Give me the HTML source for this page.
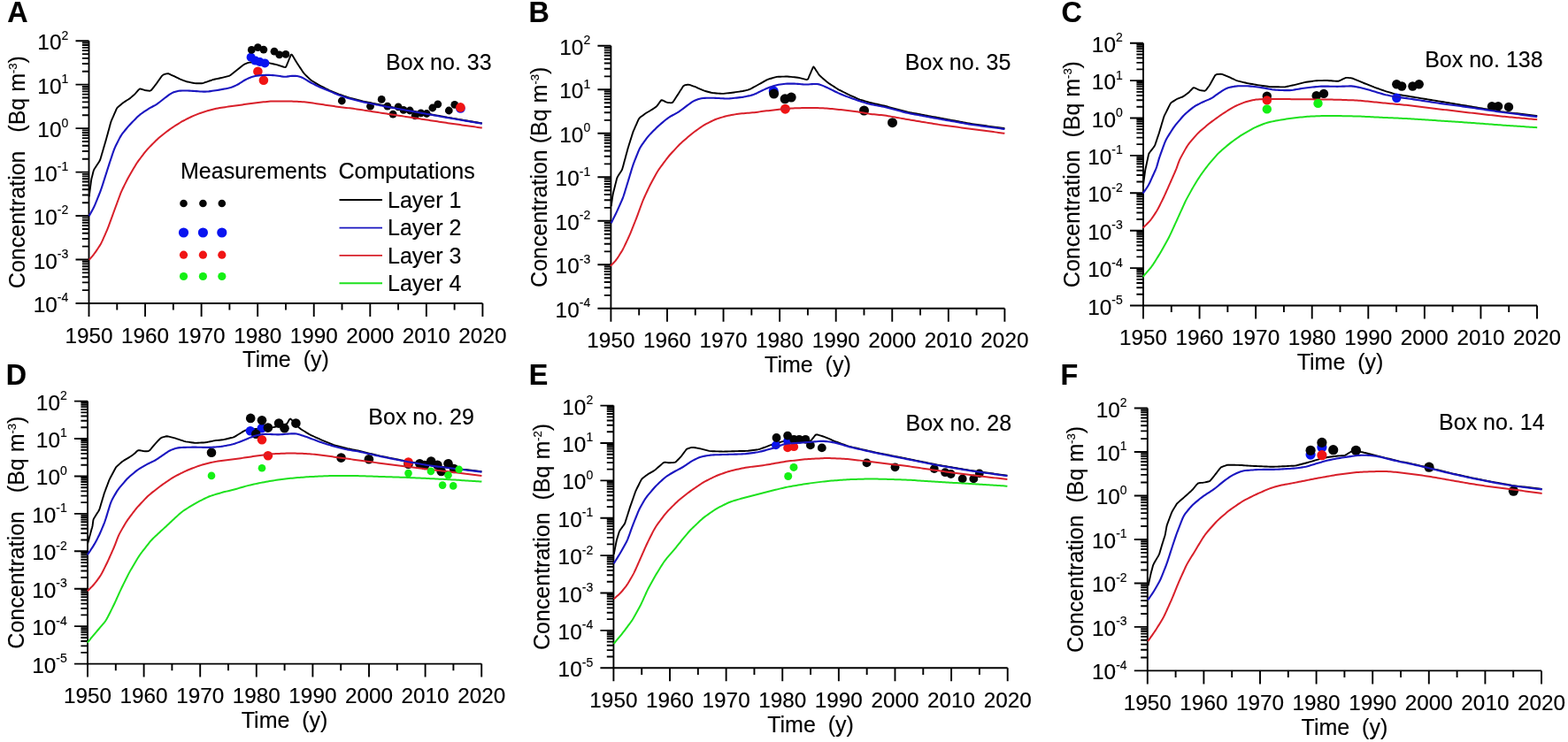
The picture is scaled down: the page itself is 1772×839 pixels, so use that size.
<!DOCTYPE html>
<html><head><meta charset="utf-8"><title>Figure</title>
<style>html,body{margin:0;padding:0;background:#fff;overflow:hidden;}svg{display:block;}text{stroke:#000;stroke-width:0.15px;}</style>
</head><body>
<svg width="1772" height="839" viewBox="0 0 1772 839" font-family='"Liberation Sans", Arial, sans-serif' fill="#000">
<rect width="1772" height="839" fill="#fff"/>
<path d="M100.5,46.2 V358 M85.5,343 H545.4 M92.9,328.11 H100.5 M92.9,319.4 H100.5 M92.9,313.22 H100.5 M92.9,308.42 H100.5 M92.9,304.51 H100.5 M92.9,301.2 H100.5 M92.9,298.33 H100.5 M92.9,295.8 H100.5 M85.5,293.53 H100.5 M92.9,278.64 H100.5 M92.9,269.93 H100.5 M92.9,263.75 H100.5 M92.9,258.96 H100.5 M92.9,255.04 H100.5 M92.9,251.73 H100.5 M92.9,248.86 H100.5 M92.9,246.33 H100.5 M85.5,244.07 H100.5 M92.9,229.18 H100.5 M92.9,220.47 H100.5 M92.9,214.28 H100.5 M92.9,209.49 H100.5 M92.9,205.57 H100.5 M92.9,202.26 H100.5 M92.9,199.39 H100.5 M92.9,196.86 H100.5 M85.5,194.6 H100.5 M92.9,179.71 H100.5 M92.9,171 H100.5 M92.9,164.82 H100.5 M92.9,160.02 H100.5 M92.9,156.11 H100.5 M92.9,152.8 H100.5 M92.9,149.93 H100.5 M92.9,147.4 H100.5 M85.5,145.13 H100.5 M92.9,130.24 H100.5 M92.9,121.53 H100.5 M92.9,115.35 H100.5 M92.9,110.56 H100.5 M92.9,106.64 H100.5 M92.9,103.33 H100.5 M92.9,100.46 H100.5 M92.9,97.93 H100.5 M85.5,95.67 H100.5 M92.9,80.78 H100.5 M92.9,72.07 H100.5 M92.9,65.88 H100.5 M92.9,61.09 H100.5 M92.9,57.17 H100.5 M92.9,53.86 H100.5 M92.9,50.99 H100.5 M92.9,48.46 H100.5 M85.5,46.2 H100.5 M132.28,343 V350.6 M164.06,343 V358 M195.84,343 V350.6 M227.61,343 V358 M259.39,343 V350.6 M291.17,343 V358 M322.95,343 V350.6 M354.73,343 V358 M386.51,343 V350.6 M418.29,343 V358 M450.06,343 V350.6 M481.84,343 V358 M513.62,343 V350.6 M545.4,343 V358" stroke="#000" stroke-width="1.9" fill="none"/>
<text x="77.3" y="353" text-anchor="end" font-size="24.4">10<tspan font-size="14" dy="-11.6">-4</tspan></text>
<text x="77.3" y="303.53" text-anchor="end" font-size="24.4">10<tspan font-size="14" dy="-11.6">-3</tspan></text>
<text x="77.3" y="254.07" text-anchor="end" font-size="24.4">10<tspan font-size="14" dy="-11.6">-2</tspan></text>
<text x="77.3" y="204.6" text-anchor="end" font-size="24.4">10<tspan font-size="14" dy="-11.6">-1</tspan></text>
<text x="77.3" y="155.13" text-anchor="end" font-size="24.4">10<tspan font-size="14" dy="-11.6">0</tspan></text>
<text x="77.3" y="105.67" text-anchor="end" font-size="24.4">10<tspan font-size="14" dy="-11.6">1</tspan></text>
<text x="77.3" y="56.2" text-anchor="end" font-size="24.4">10<tspan font-size="14" dy="-11.6">2</tspan></text>
<text x="100.5" y="387.6" text-anchor="middle" font-size="24.3">1950</text>
<text x="164.06" y="387.6" text-anchor="middle" font-size="24.3">1960</text>
<text x="227.61" y="387.6" text-anchor="middle" font-size="24.3">1970</text>
<text x="291.17" y="387.6" text-anchor="middle" font-size="24.3">1980</text>
<text x="354.73" y="387.6" text-anchor="middle" font-size="24.3">1990</text>
<text x="418.29" y="387.6" text-anchor="middle" font-size="24.3">2000</text>
<text x="481.84" y="387.6" text-anchor="middle" font-size="24.3">2010</text>
<text x="545.4" y="387.6" text-anchor="middle" font-size="24.3">2020</text>
<text x="322.95" y="415.3" text-anchor="middle" font-size="25" xml:space="preserve">Time  (y)</text>
<text transform="translate(28,194.6) rotate(-90)" text-anchor="middle" font-size="25">Concentration   (Bq m<tspan font-size="13" dy="-9">-3</tspan><tspan dy="9">)</tspan></text>
<text x="436.1" y="79.1" font-size="25">Box no. 33</text>
<text x="8.3" y="25" font-size="32.3" font-weight="bold">A</text>
<path d="M100.7,222.4 L100.96,220.42 L101.21,218.43 L101.47,216.45 L101.72,214.46 L101.98,212.48 L102.23,210.49 L102.49,208.51 L102.75,206.52 L103,204.54 L103.33,202.57 L103.8,200.63 L104.3,198.69 L104.79,196.75 L105.28,194.81 L105.79,192.88 L106.62,191.09 L107.72,189.42 L108.83,187.75 L109.94,186.08 L111.01,184.4 L112.08,182.71 L113.06,180.98 L113.69,179.08 L114.25,177.16 L114.81,175.24 L115.38,173.32 L115.94,171.4 L116.5,169.48 L117.06,167.56 L117.62,165.64 L118.18,163.72 L118.75,161.8 L119.31,159.88 L119.86,157.96 L120.39,156.03 L120.92,154.1 L121.45,152.17 L121.97,150.24 L122.5,148.31 L123.02,146.38 L123.55,144.45 L124.08,142.52 L124.6,140.59 L125.13,138.66 L125.76,136.76 L126.54,134.92 L127.34,133.09 L128.15,131.26 L128.95,129.42 L129.75,127.59 L130.55,125.76 L131.36,123.92 L132.25,122.16 L133.65,120.77 L135.17,119.47 L136.7,118.18 L138.22,116.88 L139.84,115.71 L141.53,114.64 L143.22,113.57 L144.91,112.5 L146.57,111.39 L148.12,110.13 L149.65,108.84 L151.18,107.55 L152.63,106.18 L153.95,104.68 L155.26,103.16 L156.56,101.65 L157.95,100.41 L159.76,100.72 L161.66,101.35 L163.57,101.94 L165.54,102.26 L167.52,102.53 L169.47,102.73 L171.03,101.94 L172.26,100.38 L173.49,98.8 L174.72,97.22 L175.95,95.64 L177.16,94.05 L178.32,92.42 L179.48,90.79 L180.63,89.15 L181.78,87.52 L182.94,85.89 L184.38,84.64 L186.24,83.95 L188.14,83.33 L190.01,83.24 L191.85,83.96 L193.69,84.76 L195.52,85.56 L197.33,86.42 L199.12,87.31 L200.91,88.2 L202.7,89.1 L204.53,89.9 L206.4,90.6 L208.28,91.29 L210.16,91.98 L212.07,92.54 L214.03,92.94 L216,93.33 L217.96,93.72 L219.92,94.1 L221.9,94.3 L223.9,94.3 L225.91,94.3 L227.9,94.26 L229.83,93.85 L231.73,93.22 L233.63,92.59 L235.52,91.93 L237.4,91.25 L239.29,90.58 L241.19,89.97 L243.14,89.53 L245.1,89.12 L247.06,88.71 L249.01,88.27 L250.96,87.81 L252.9,87.35 L254.85,86.89 L256.8,86.44 L258.73,85.95 L260.46,85.03 L262.03,83.8 L263.6,82.56 L265.17,81.32 L266.74,80.08 L268.31,78.84 L269.88,77.59 L271.44,76.34 L273,75.08 L274.55,73.83 L276.2,72.72 L278.01,71.88 L279.85,71.09 L281.77,70.66 L283.76,70.57 L285.76,70.48 L287.76,70.4 L289.76,70.33 L291.76,70.4 L293.76,70.52 L295.75,70.64 L297.75,70.76 L299.75,70.87 L301.75,70.99 L303.73,71.17 L305.69,71.57 L307.64,72.01 L309.6,72.45 L311.55,72.9 L313.48,73.4 L315.38,74.02 L317.28,74.65 L319.18,75.27 L321.08,75.9 L322.79,76.11 L323.68,74.56 L324.44,72.71 L325.19,70.85 L325.94,69 L326.69,67.15 L327.44,65.29 L328.19,63.44 L328.95,61.64 L329.84,61.64 L330.87,63.31 L331.9,65.03 L332.94,66.74 L333.97,68.46 L335,70.17 L336.06,71.87 L337.16,73.54 L338.27,75.2 L339.38,76.87 L340.49,78.53 L341.6,80.2 L342.71,81.86 L343.95,83.42 L345.36,84.84 L346.78,86.24 L348.21,87.65 L349.63,89.05 L351.09,90.41 L352.76,91.51 L354.46,92.55 L356.17,93.6 L357.88,94.64 L359.59,95.68 L361.33,96.66 L363.12,97.56 L364.91,98.45 L366.7,99.35 L368.49,100.24 L370.28,101.14 L372.08,102.01 L373.92,102.78 L375.77,103.54 L377.63,104.3 L379.48,105.06 L381.33,105.81 L383.19,106.56 L385.07,107.24 L386.96,107.88 L388.85,108.53 L390.75,109.18 L392.64,109.83 L394.54,110.46 L396.46,110.99 L398.41,111.48 L400.35,111.97 L402.29,112.46 L404.23,112.95 L406.17,113.44 L408.11,113.92 L410.05,114.4 L412.01,114.81 L413.97,115.22 L415.93,115.62 L417.89,116.03 L419.85,116.43 L421.8,116.84 L423.76,117.24 L425.72,117.65 L427.68,118.05 L429.64,118.46 L431.6,118.86 L433.56,119.27 L435.52,119.67 L437.48,120.08 L439.44,120.48 L441.4,120.86 L443.37,121.23 L445.34,121.6 L447.3,121.97 L449.27,122.34 L451.24,122.7 L453.2,123.07 L455.17,123.44 L457.14,123.81 L459.1,124.18 L461.07,124.55 L463.04,124.92 L465,125.28 L466.97,125.65 L468.94,126.02 L470.9,126.39 L472.87,126.75 L474.84,127.11 L476.81,127.47 L478.78,127.83 L480.75,128.18 L482.72,128.54 L484.68,128.9 L486.65,129.26 L488.62,129.62 L490.59,129.98 L492.56,130.33 L494.53,130.69 L496.49,131.05 L498.46,131.41 L500.43,131.77 L502.4,132.13 L504.37,132.48 L506.34,132.83 L508.31,133.17 L510.28,133.5 L512.26,133.84 L514.23,134.18 L516.2,134.51 L518.17,134.85 L520.15,135.19 L522.12,135.52 L524.09,135.86 L526.06,136.2 L528.04,136.54 L530.01,136.87 L531.98,137.21 L533.95,137.55 L535.92,137.88 L537.9,138.22 L539.87,138.56 L541.84,138.89 L543.81,139.23 L544.8,139.4" stroke="#000000" stroke-width="1.9" fill="none" stroke-linejoin="round"/>
<circle cx="283.6" cy="64.7" r="5" fill="#0a14f0"/>
<circle cx="288.6" cy="68.6" r="5" fill="#0a14f0"/>
<circle cx="293.6" cy="70" r="5" fill="#0a14f0"/>
<circle cx="299.3" cy="71.4" r="5" fill="#0a14f0"/>
<circle cx="520.4" cy="122.4" r="5.3" fill="#0a14f0"/>
<circle cx="284.3" cy="56.4" r="4.4" fill="#050505"/>
<circle cx="291.4" cy="53.6" r="4.4" fill="#050505"/>
<circle cx="297.9" cy="56.1" r="4.4" fill="#050505"/>
<circle cx="310" cy="58.2" r="4.4" fill="#050505"/>
<circle cx="315.7" cy="61.8" r="4.4" fill="#050505"/>
<circle cx="322.9" cy="61.4" r="4.4" fill="#050505"/>
<circle cx="386.3" cy="114" r="4.4" fill="#050505"/>
<circle cx="418.5" cy="120.2" r="4.4" fill="#050505"/>
<circle cx="431.2" cy="112.4" r="4.4" fill="#050505"/>
<circle cx="437.9" cy="120.2" r="4.4" fill="#050505"/>
<circle cx="444.1" cy="129.1" r="4.4" fill="#050505"/>
<circle cx="450.1" cy="120.8" r="4.4" fill="#050505"/>
<circle cx="456" cy="124.4" r="4.4" fill="#050505"/>
<circle cx="463.2" cy="125" r="4.4" fill="#050505"/>
<circle cx="469.1" cy="130.9" r="4.4" fill="#050505"/>
<circle cx="475.7" cy="127.9" r="4.4" fill="#050505"/>
<circle cx="482.2" cy="128.5" r="4.4" fill="#050505"/>
<circle cx="488.8" cy="122" r="4.4" fill="#050505"/>
<circle cx="494.8" cy="117.8" r="4.4" fill="#050505"/>
<circle cx="507.3" cy="125" r="4.4" fill="#050505"/>
<circle cx="513.8" cy="118.4" r="4.4" fill="#050505"/>
<circle cx="291.4" cy="80.7" r="5.3" fill="#f01414"/>
<circle cx="297.9" cy="90.8" r="5.3" fill="#f01414"/>
<circle cx="520.4" cy="121.4" r="5.3" fill="#f01414"/>
<path d="M100.7,244.3 L101.66,242.54 L102.62,240.79 L103.59,239.03 L104.54,237.27 L105.46,235.5 L106.34,233.7 L107.16,231.88 L107.94,230.04 L108.7,228.18 L109.45,226.33 L110.2,224.47 L110.95,222.61 L111.7,220.76 L112.44,218.9 L113.17,217.03 L113.87,215.16 L114.54,213.27 L115.17,211.38 L115.79,209.47 L116.4,207.56 L117,205.65 L117.61,203.75 L118.22,201.84 L118.82,199.93 L119.43,198.02 L120.04,196.11 L120.64,194.2 L121.25,192.3 L121.86,190.39 L122.46,188.48 L123.08,186.57 L123.69,184.67 L124.32,182.77 L124.95,180.87 L125.58,178.97 L126.21,177.07 L126.84,175.17 L127.48,173.27 L128.13,171.38 L128.81,169.5 L129.55,167.64 L130.36,165.82 L131.22,164.01 L132.11,162.22 L133.01,160.43 L133.91,158.64 L134.82,156.86 L135.76,155.1 L136.77,153.37 L137.86,151.72 L139.05,150.12 L140.3,148.56 L141.57,147.01 L142.86,145.48 L144.15,143.94 L145.45,142.43 L146.79,140.94 L148.15,139.48 L149.55,138.04 L150.95,136.61 L152.36,135.19 L153.77,133.77 L155.2,132.37 L156.65,131 L158.16,129.7 L159.74,128.49 L161.37,127.33 L163.03,126.22 L164.7,125.11 L166.38,124.02 L168.07,122.96 L169.79,121.94 L171.54,120.97 L173.31,120.03 L175.06,119.08 L176.77,118.05 L178.42,116.94 L180.02,115.75 L181.6,114.52 L183.16,113.27 L184.73,112.03 L186.31,110.79 L187.89,109.57 L189.49,108.36 L191.11,107.19 L192.76,106.09 L194.48,105.13 L196.28,104.33 L198.16,103.69 L200.07,103.18 L202.02,102.82 L203.99,102.62 L205.98,102.53 L207.98,102.51 L209.98,102.52 L211.98,102.55 L213.98,102.62 L215.98,102.72 L217.98,102.86 L219.97,103 L221.97,103.14 L223.97,103.29 L225.97,103.43 L227.96,103.56 L229.96,103.65 L231.95,103.65 L233.94,103.55 L235.92,103.35 L237.9,103.09 L239.89,102.81 L241.87,102.53 L243.85,102.23 L245.83,101.92 L247.8,101.59 L249.77,101.24 L251.74,100.89 L253.71,100.53 L255.68,100.16 L257.64,99.77 L259.58,99.31 L261.48,98.75 L263.35,98.06 L265.17,97.26 L266.98,96.4 L268.75,95.48 L270.48,94.48 L272.17,93.42 L273.83,92.32 L275.51,91.24 L277.23,90.24 L279.01,89.35 L280.83,88.54 L282.69,87.79 L284.55,87.09 L286.44,86.47 L288.36,85.98 L290.31,85.64 L292.29,85.42 L294.28,85.26 L296.28,85.12 L298.28,84.99 L300.27,84.9 L302.27,84.86 L304.27,84.89 L306.27,84.98 L308.26,85.11 L310.26,85.27 L312.25,85.47 L314.23,85.74 L316.2,86.06 L318.17,86.38 L320.13,86.63 L322.1,86.73 L324.06,86.63 L326.02,86.37 L327.98,86.07 L329.95,85.84 L331.93,85.77 L333.9,85.85 L335.88,86.07 L337.82,86.42 L339.7,86.96 L341.5,87.71 L343.24,88.65 L344.94,89.68 L346.64,90.73 L348.35,91.77 L350.09,92.77 L351.85,93.72 L353.62,94.64 L355.4,95.55 L357.19,96.45 L358.99,97.34 L360.8,98.19 L362.63,99 L364.47,99.79 L366.32,100.56 L368.17,101.32 L370.02,102.08 L371.87,102.85 L373.72,103.62 L375.57,104.39 L377.41,105.16 L379.26,105.93 L381.12,106.68 L382.98,107.41 L384.86,108.1 L386.75,108.77 L388.64,109.41 L390.54,110.04 L392.45,110.66 L394.36,111.25 L396.28,111.8 L398.21,112.32 L400.15,112.82 L402.09,113.31 L404.04,113.8 L405.98,114.28 L407.92,114.76 L409.87,115.21 L411.83,115.64 L413.79,116.05 L415.75,116.45 L417.71,116.84 L419.68,117.24 L421.64,117.63 L423.6,118.02 L425.57,118.41 L427.53,118.81 L429.49,119.2 L431.46,119.59 L433.42,119.98 L435.38,120.38 L437.35,120.76 L439.31,121.14 L441.28,121.51 L443.25,121.87 L445.22,122.23 L447.19,122.58 L449.17,122.93 L451.14,123.28 L453.11,123.63 L455.08,123.98 L457.05,124.33 L459.02,124.68 L460.99,125.03 L462.97,125.38 L464.94,125.73 L466.91,126.08 L468.88,126.44 L470.85,126.79 L472.82,127.14 L474.79,127.5 L476.76,127.86 L478.73,128.22 L480.7,128.58 L482.67,128.93 L484.64,129.29 L486.61,129.65 L488.58,130.01 L490.55,130.37 L492.52,130.73 L494.49,131.09 L496.46,131.44 L498.43,131.8 L500.4,132.16 L502.37,132.52 L504.34,132.87 L506.31,133.22 L508.29,133.56 L510.26,133.9 L512.23,134.24 L514.21,134.57 L516.18,134.91 L518.15,135.25 L520.13,135.58 L522.1,135.92 L524.08,136.26 L526.05,136.6 L528.02,136.93 L530,137.27 L531.97,137.61 L533.94,137.95 L535.92,138.28 L537.89,138.62 L539.87,138.96 L541.84,139.29 L543.81,139.63 L544.8,139.8" stroke="#1a16c0" stroke-width="2.1" fill="none" stroke-linejoin="round"/>
<path d="M100.7,293.9 L102.01,292.38 L103.32,290.87 L104.6,289.34 L105.85,287.77 L107.05,286.18 L108.21,284.55 L109.34,282.9 L110.46,281.23 L111.56,279.57 L112.64,277.88 L113.66,276.17 L114.6,274.41 L115.47,272.61 L116.3,270.79 L117.12,268.96 L117.93,267.13 L118.74,265.3 L119.55,263.47 L120.34,261.63 L121.13,259.79 L121.88,257.94 L122.6,256.07 L123.3,254.19 L123.98,252.31 L124.67,250.43 L125.35,248.55 L126.04,246.67 L126.72,244.79 L127.41,242.91 L128.09,241.02 L128.78,239.14 L129.46,237.26 L130.15,235.38 L130.84,233.5 L131.53,231.62 L132.22,229.74 L132.91,227.86 L133.6,225.98 L134.29,224.1 L134.98,222.22 L135.68,220.35 L136.4,218.48 L137.17,216.64 L137.99,214.81 L138.85,213.01 L139.73,211.21 L140.62,209.42 L141.51,207.62 L142.4,205.83 L143.31,204.04 L144.23,202.27 L145.18,200.51 L146.17,198.77 L147.17,197.03 L148.18,195.31 L149.19,193.58 L150.2,191.85 L151.2,190.11 L152.19,188.38 L153.21,186.65 L154.27,184.96 L155.39,183.31 L156.55,181.68 L157.75,180.08 L158.96,178.48 L160.16,176.88 L161.37,175.29 L162.59,173.7 L163.81,172.12 L165.07,170.56 L166.38,169.05 L167.74,167.59 L169.13,166.15 L170.54,164.73 L171.95,163.3 L173.36,161.88 L174.77,160.47 L176.19,159.05 L177.63,157.67 L179.1,156.32 L180.62,155.02 L182.17,153.75 L183.74,152.51 L185.32,151.27 L186.89,150.04 L188.47,148.81 L190.06,147.59 L191.66,146.4 L193.3,145.24 L194.96,144.13 L196.64,143.03 L198.32,141.95 L200.01,140.88 L201.7,139.8 L203.4,138.75 L205.12,137.72 L206.86,136.74 L208.63,135.81 L210.41,134.9 L212.2,134 L213.99,133.11 L215.79,132.23 L217.6,131.38 L219.43,130.57 L221.28,129.82 L223.15,129.11 L225.03,128.43 L226.92,127.75 L228.8,127.08 L230.7,126.43 L232.6,125.83 L234.52,125.27 L236.46,124.75 L238.39,124.24 L240.33,123.75 L242.28,123.27 L244.22,122.82 L246.18,122.41 L248.15,122.05 L250.13,121.74 L252.1,121.44 L254.09,121.15 L256.07,120.87 L258.05,120.59 L260.04,120.32 L262.02,120.05 L264,119.79 L265.99,119.52 L267.97,119.24 L269.95,118.96 L271.94,118.68 L273.92,118.39 L275.9,118.1 L277.88,117.81 L279.86,117.51 L281.84,117.22 L283.82,116.94 L285.8,116.66 L287.79,116.4 L289.78,116.16 L291.77,115.94 L293.76,115.74 L295.75,115.54 L297.74,115.34 L299.74,115.14 L301.73,114.95 L303.72,114.76 L305.72,114.61 L307.71,114.5 L309.71,114.43 L311.71,114.41 L313.71,114.4 L315.72,114.4 L317.72,114.4 L319.72,114.4 L321.72,114.4 L323.72,114.42 L325.73,114.44 L327.73,114.5 L329.73,114.57 L331.73,114.66 L333.73,114.75 L335.73,114.85 L337.73,114.94 L339.73,115.04 L341.73,115.15 L343.72,115.28 L345.71,115.47 L347.7,115.7 L349.68,115.97 L351.66,116.27 L353.64,116.57 L355.62,116.87 L357.6,117.17 L359.58,117.47 L361.56,117.77 L363.54,118.07 L365.52,118.36 L367.5,118.65 L369.48,118.94 L371.46,119.24 L373.44,119.53 L375.42,119.82 L377.41,120.11 L379.39,120.39 L381.37,120.67 L383.35,120.94 L385.34,121.2 L387.33,121.44 L389.32,121.67 L391.3,121.9 L393.29,122.13 L395.28,122.36 L397.27,122.6 L399.26,122.85 L401.24,123.12 L403.22,123.41 L405.2,123.7 L407.18,124.01 L409.16,124.31 L411.14,124.62 L413.12,124.92 L415.1,125.23 L417.07,125.53 L419.05,125.84 L421.03,126.14 L423.01,126.45 L424.99,126.76 L426.97,127.06 L428.95,127.37 L430.93,127.67 L432.9,127.98 L434.88,128.28 L436.86,128.59 L438.84,128.89 L440.82,129.19 L442.8,129.5 L444.78,129.8 L446.76,130.1 L448.74,130.41 L450.72,130.71 L452.69,131.01 L454.67,131.32 L456.65,131.62 L458.63,131.93 L460.61,132.23 L462.59,132.53 L464.57,132.84 L466.55,133.14 L468.53,133.44 L470.51,133.75 L472.49,134.05 L474.47,134.35 L476.44,134.65 L478.42,134.95 L480.4,135.26 L482.38,135.56 L484.36,135.86 L486.34,136.16 L488.32,136.46 L490.3,136.76 L492.28,137.06 L494.26,137.36 L496.24,137.67 L498.22,137.97 L500.2,138.27 L502.18,138.57 L504.16,138.86 L506.14,139.15 L508.12,139.44 L510.1,139.72 L512.09,140 L514.07,140.28 L516.05,140.55 L518.03,140.83 L520.02,141.11 L522,141.39 L523.98,141.67 L525.96,141.95 L527.95,142.23 L529.93,142.51 L531.91,142.79 L533.9,143.07 L535.88,143.34 L537.86,143.62 L539.84,143.9 L541.83,144.18 L543.81,144.46 L544.8,144.6" stroke="#d8202a" stroke-width="2.0" fill="none" stroke-linejoin="round"/>
<path d="M690.4,51.8 V363.8 M675.4,348.8 H1135.4 M682.8,333.9 H690.4 M682.8,325.18 H690.4 M682.8,319 H690.4 M682.8,314.2 H690.4 M682.8,310.28 H690.4 M682.8,306.97 H690.4 M682.8,304.1 H690.4 M682.8,301.56 H690.4 M675.4,299.3 H690.4 M682.8,284.4 H690.4 M682.8,275.68 H690.4 M682.8,269.5 H690.4 M682.8,264.7 H690.4 M682.8,260.78 H690.4 M682.8,257.47 H690.4 M682.8,254.6 H690.4 M682.8,252.06 H690.4 M675.4,249.8 H690.4 M682.8,234.9 H690.4 M682.8,226.18 H690.4 M682.8,220 H690.4 M682.8,215.2 H690.4 M682.8,211.28 H690.4 M682.8,207.97 H690.4 M682.8,205.1 H690.4 M682.8,202.56 H690.4 M675.4,200.3 H690.4 M682.8,185.4 H690.4 M682.8,176.68 H690.4 M682.8,170.5 H690.4 M682.8,165.7 H690.4 M682.8,161.78 H690.4 M682.8,158.47 H690.4 M682.8,155.6 H690.4 M682.8,153.06 H690.4 M675.4,150.8 H690.4 M682.8,135.9 H690.4 M682.8,127.18 H690.4 M682.8,121 H690.4 M682.8,116.2 H690.4 M682.8,112.28 H690.4 M682.8,108.97 H690.4 M682.8,106.1 H690.4 M682.8,103.56 H690.4 M675.4,101.3 H690.4 M682.8,86.4 H690.4 M682.8,77.68 H690.4 M682.8,71.5 H690.4 M682.8,66.7 H690.4 M682.8,62.78 H690.4 M682.8,59.47 H690.4 M682.8,56.6 H690.4 M682.8,54.06 H690.4 M675.4,51.8 H690.4 M722.19,348.8 V356.4 M753.97,348.8 V363.8 M785.76,348.8 V356.4 M817.54,348.8 V363.8 M849.33,348.8 V356.4 M881.11,348.8 V363.8 M912.9,348.8 V356.4 M944.69,348.8 V363.8 M976.47,348.8 V356.4 M1008.26,348.8 V363.8 M1040.04,348.8 V356.4 M1071.83,348.8 V363.8 M1103.61,348.8 V356.4 M1135.4,348.8 V363.8" stroke="#000" stroke-width="1.9" fill="none"/>
<text x="667.2" y="358.8" text-anchor="end" font-size="24.4">10<tspan font-size="14" dy="-11.6">-4</tspan></text>
<text x="667.2" y="309.3" text-anchor="end" font-size="24.4">10<tspan font-size="14" dy="-11.6">-3</tspan></text>
<text x="667.2" y="259.8" text-anchor="end" font-size="24.4">10<tspan font-size="14" dy="-11.6">-2</tspan></text>
<text x="667.2" y="210.3" text-anchor="end" font-size="24.4">10<tspan font-size="14" dy="-11.6">-1</tspan></text>
<text x="667.2" y="160.8" text-anchor="end" font-size="24.4">10<tspan font-size="14" dy="-11.6">0</tspan></text>
<text x="667.2" y="111.3" text-anchor="end" font-size="24.4">10<tspan font-size="14" dy="-11.6">1</tspan></text>
<text x="667.2" y="61.8" text-anchor="end" font-size="24.4">10<tspan font-size="14" dy="-11.6">2</tspan></text>
<text x="690.4" y="393.4" text-anchor="middle" font-size="24.3">1950</text>
<text x="753.97" y="393.4" text-anchor="middle" font-size="24.3">1960</text>
<text x="817.54" y="393.4" text-anchor="middle" font-size="24.3">1970</text>
<text x="881.11" y="393.4" text-anchor="middle" font-size="24.3">1980</text>
<text x="944.69" y="393.4" text-anchor="middle" font-size="24.3">1990</text>
<text x="1008.26" y="393.4" text-anchor="middle" font-size="24.3">2000</text>
<text x="1071.83" y="393.4" text-anchor="middle" font-size="24.3">2010</text>
<text x="1135.4" y="393.4" text-anchor="middle" font-size="24.3">2020</text>
<text x="912.9" y="421.1" text-anchor="middle" font-size="25" xml:space="preserve">Time  (y)</text>
<text transform="translate(617.9,200.3) rotate(-90)" text-anchor="middle" font-size="25">Concentration (Bq m<tspan font-size="13" dy="-9">-3</tspan><tspan dy="9">)</tspan></text>
<text x="1022.8" y="79.3" font-size="25">Box no. 35</text>
<text x="597.5" y="25" font-size="32.3" font-weight="bold">B</text>
<path d="M690.7,233.1 L690.98,231.12 L691.27,229.14 L691.55,227.16 L691.83,225.18 L692.11,223.2 L692.4,221.22 L692.75,219.25 L693.23,217.31 L693.71,215.37 L694.2,213.43 L694.69,211.49 L695.18,209.55 L695.66,207.61 L696.15,205.67 L696.64,203.73 L697.13,201.79 L697.89,199.96 L698.95,198.27 L700.03,196.59 L701.11,194.9 L702.19,193.22 L703.13,191.47 L703.7,189.56 L704.23,187.63 L704.75,185.7 L705.27,183.77 L705.79,181.84 L706.31,179.91 L706.84,177.97 L707.36,176.04 L707.88,174.11 L708.4,172.18 L708.92,170.25 L709.44,168.32 L710,166.39 L710.59,164.49 L711.19,162.58 L711.79,160.67 L712.39,158.76 L713,156.85 L713.6,154.94 L714.2,153.04 L714.8,151.13 L715.42,149.23 L716.17,147.38 L716.98,145.54 L717.79,143.71 L718.59,141.88 L719.4,140.05 L720.21,138.22 L721.01,136.39 L721.84,134.57 L723.06,133.07 L724.65,131.86 L726.25,130.66 L727.85,129.46 L729.46,128.28 L731.15,127.21 L732.88,126.21 L734.61,125.2 L736.33,124.18 L738.01,123.09 L739.67,121.98 L741.33,120.87 L742.74,119.5 L743.9,117.87 L745.04,116.23 L746.19,114.59 L747.39,113.2 L749.01,113.5 L750.78,114.42 L752.55,115.34 L754.42,115.95 L756.4,116.17 L758.39,116.35 L760.07,115.89 L761.22,114.33 L762.31,112.66 L763.4,110.98 L764.5,109.31 L765.59,107.63 L766.67,105.95 L767.75,104.26 L768.82,102.57 L769.9,100.89 L770.98,99.2 L772.06,97.53 L773.52,96.41 L775.46,96.02 L777.42,95.68 L779.35,95.87 L781.22,96.56 L783.09,97.27 L784.96,97.97 L786.82,98.72 L788.65,99.53 L790.48,100.34 L792.31,101.14 L794.14,101.95 L796,102.68 L797.92,103.21 L799.86,103.72 L801.79,104.23 L803.73,104.74 L805.68,105.12 L807.68,105.3 L809.67,105.46 L811.66,105.61 L813.66,105.77 L815.65,105.92 L817.64,105.88 L819.63,105.65 L821.62,105.43 L823.61,105.2 L825.6,104.97 L827.58,104.74 L829.56,104.47 L831.54,104.17 L833.52,103.87 L835.5,103.58 L837.48,103.28 L839.45,102.97 L841.41,102.55 L843.35,102.06 L845.29,101.58 L847.2,101.02 L848.98,100.12 L850.73,99.15 L852.48,98.19 L854.24,97.22 L855.99,96.25 L857.74,95.29 L859.48,94.3 L861.22,93.31 L862.96,92.32 L864.7,91.34 L866.44,90.35 L868.26,89.57 L870.19,89.02 L872.11,88.48 L874.04,87.94 L875.96,87.4 L877.9,86.91 L879.88,86.76 L881.88,86.71 L883.88,86.66 L885.88,86.61 L887.88,86.56 L889.88,86.53 L891.87,86.68 L893.87,86.88 L895.86,87.08 L897.85,87.28 L899.84,87.48 L901.82,87.72 L903.77,88.15 L905.71,88.64 L907.65,89.13 L909.59,89.62 L911.52,90.08 L912.97,89.58 L913.8,87.83 L914.58,85.99 L915.36,84.15 L916.15,82.31 L916.93,80.46 L917.71,78.62 L918.5,76.78 L919.32,75.4 L920.36,76.55 L921.44,78.23 L922.52,79.91 L923.61,81.59 L924.69,83.27 L925.83,84.91 L927.27,86.28 L928.77,87.6 L930.28,88.92 L931.78,90.23 L933.29,91.55 L934.8,92.86 L936.4,94.05 L938.08,95.14 L939.76,96.22 L941.44,97.31 L943.12,98.4 L944.8,99.48 L946.48,100.57 L948.22,101.56 L950,102.46 L951.79,103.36 L953.58,104.26 L955.36,105.16 L957.15,106.07 L958.94,106.96 L960.76,107.79 L962.58,108.61 L964.41,109.42 L966.24,110.23 L968.07,111.05 L969.89,111.86 L971.76,112.58 L973.67,113.18 L975.58,113.76 L977.5,114.33 L979.41,114.91 L981.33,115.49 L983.25,116.04 L985.2,116.49 L987.15,116.93 L989.1,117.36 L991.06,117.8 L993.01,118.24 L994.96,118.67 L996.91,119.11 L998.86,119.55 L1000.81,120.02 L1002.74,120.53 L1004.67,121.05 L1006.61,121.57 L1008.54,122.08 L1010.47,122.6 L1012.41,123.12 L1014.34,123.63 L1016.27,124.15 L1018.2,124.67 L1020.14,125.19 L1022.07,125.7 L1024,126.22 L1025.94,126.71 L1027.9,127.09 L1029.87,127.45 L1031.84,127.82 L1033.81,128.18 L1035.77,128.54 L1037.74,128.91 L1039.71,129.27 L1041.68,129.63 L1043.64,130 L1045.61,130.36 L1047.58,130.73 L1049.54,131.09 L1051.51,131.45 L1053.48,131.82 L1055.45,132.18 L1057.41,132.54 L1059.38,132.91 L1061.35,133.27 L1063.32,133.63 L1065.28,134 L1067.25,134.36 L1069.22,134.72 L1071.19,135.09 L1073.15,135.45 L1075.12,135.81 L1077.09,136.17 L1079.06,136.54 L1081.02,136.9 L1082.99,137.26 L1084.96,137.62 L1086.93,137.99 L1088.89,138.35 L1090.86,138.71 L1092.83,139.08 L1094.8,139.44 L1096.76,139.8 L1098.74,140.1 L1100.72,140.38 L1102.7,140.65 L1104.69,140.93 L1106.67,141.2 L1108.65,141.48 L1110.63,141.75 L1112.61,142.03 L1114.59,142.31 L1116.58,142.58 L1118.56,142.86 L1120.54,143.13 L1122.52,143.41 L1124.5,143.68 L1126.48,143.96 L1128.46,144.24 L1130.45,144.51 L1132.43,144.79 L1134.41,145.06 L1135.4,145.2" stroke="#000000" stroke-width="1.9" fill="none" stroke-linejoin="round"/>
<circle cx="874.2" cy="103" r="5.5" fill="#0a14f0"/>
<circle cx="874.6" cy="106" r="5.5" fill="#050505"/>
<circle cx="887.1" cy="111.8" r="5.5" fill="#050505"/>
<circle cx="894.2" cy="110.1" r="5.5" fill="#050505"/>
<circle cx="976.5" cy="125" r="5.5" fill="#050505"/>
<circle cx="1008.5" cy="138.7" r="5.5" fill="#050505"/>
<circle cx="887.4" cy="123.2" r="5.5" fill="#f01414"/>
<path d="M690.7,252.2 L691.59,250.41 L692.49,248.62 L693.38,246.83 L694.28,245.04 L695.16,243.25 L696.04,241.45 L696.89,239.64 L697.72,237.82 L698.55,236 L699.37,234.17 L700.18,232.35 L701,230.52 L701.82,228.69 L702.62,226.86 L703.39,225.02 L704.11,223.15 L704.77,221.27 L705.39,219.37 L705.98,217.46 L706.57,215.54 L707.15,213.63 L707.74,211.72 L708.33,209.81 L708.91,207.89 L709.5,205.98 L710.08,204.06 L710.66,202.15 L711.24,200.23 L711.81,198.32 L712.39,196.4 L712.97,194.49 L713.55,192.57 L714.13,190.66 L714.73,188.75 L715.35,186.85 L716.01,184.96 L716.72,183.09 L717.44,181.23 L718.18,179.37 L718.92,177.51 L719.66,175.65 L720.4,173.79 L721.15,171.94 L721.92,170.1 L722.76,168.29 L723.7,166.54 L724.74,164.85 L725.86,163.2 L727.02,161.57 L728.19,159.95 L729.37,158.33 L730.55,156.72 L731.77,155.14 L733.04,153.6 L734.37,152.11 L735.75,150.67 L737.16,149.25 L738.57,147.83 L739.99,146.42 L741.41,145.01 L742.84,143.62 L744.31,142.26 L745.8,140.93 L747.32,139.63 L748.85,138.34 L750.39,137.06 L751.93,135.78 L753.49,134.54 L755.09,133.35 L756.74,132.25 L758.45,131.22 L760.2,130.25 L761.96,129.3 L763.71,128.33 L765.44,127.34 L767.14,126.29 L768.79,125.17 L770.41,124 L772.01,122.8 L773.6,121.59 L775.2,120.39 L776.8,119.18 L778.39,117.98 L780,116.79 L781.62,115.63 L783.29,114.58 L785.04,113.67 L786.87,112.92 L788.75,112.3 L790.67,111.76 L792.61,111.33 L794.57,111.03 L796.54,110.88 L798.54,110.82 L800.53,110.8 L802.53,110.8 L804.54,110.81 L806.54,110.82 L808.54,110.87 L810.53,110.94 L812.53,111.05 L814.53,111.18 L816.52,111.3 L818.52,111.42 L820.51,111.49 L822.51,111.49 L824.5,111.39 L826.49,111.23 L828.48,111.03 L830.47,110.82 L832.46,110.61 L834.45,110.39 L836.43,110.16 L838.42,109.9 L840.39,109.59 L842.35,109.22 L844.31,108.81 L846.26,108.37 L848.2,107.9 L850.12,107.38 L852.01,106.75 L853.85,106.01 L855.66,105.18 L857.45,104.29 L859.24,103.4 L861.04,102.52 L862.84,101.66 L864.67,100.84 L866.51,100.07 L868.37,99.32 L870.23,98.59 L872.1,97.88 L873.98,97.22 L875.88,96.65 L877.82,96.19 L879.78,95.83 L881.75,95.51 L883.73,95.22 L885.71,94.97 L887.7,94.78 L889.69,94.67 L891.69,94.62 L893.69,94.61 L895.69,94.61 L897.69,94.65 L899.68,94.72 L901.68,94.85 L903.67,95.02 L905.66,95.21 L907.65,95.38 L909.64,95.5 L911.63,95.53 L913.62,95.46 L915.61,95.31 L917.6,95.14 L919.59,95 L921.57,94.93 L923.52,95.02 L925.44,95.35 L927.31,95.91 L929.16,96.62 L931,97.39 L932.83,98.2 L934.65,99.03 L936.46,99.88 L938.26,100.76 L940.05,101.65 L941.84,102.54 L943.63,103.44 L945.43,104.31 L947.24,105.15 L949.07,105.95 L950.92,106.72 L952.78,107.46 L954.64,108.2 L956.5,108.92 L958.37,109.64 L960.24,110.34 L962.12,111.02 L964.01,111.69 L965.89,112.36 L967.78,113.02 L969.67,113.67 L971.57,114.3 L973.48,114.9 L975.39,115.49 L977.31,116.07 L979.22,116.64 L981.15,117.19 L983.08,117.69 L985.03,118.13 L986.99,118.54 L988.95,118.92 L990.92,119.29 L992.88,119.66 L994.85,120.03 L996.81,120.42 L998.77,120.82 L1000.72,121.26 L1002.66,121.73 L1004.6,122.24 L1006.53,122.75 L1008.47,123.26 L1010.4,123.78 L1012.33,124.3 L1014.27,124.82 L1016.2,125.33 L1018.13,125.85 L1020.06,126.36 L1022,126.87 L1023.94,127.36 L1025.88,127.82 L1027.84,128.24 L1029.8,128.63 L1031.77,129 L1033.73,129.37 L1035.7,129.73 L1037.67,130.09 L1039.64,130.46 L1041.6,130.82 L1043.57,131.19 L1045.54,131.55 L1047.51,131.91 L1049.47,132.28 L1051.44,132.64 L1053.41,133 L1055.38,133.37 L1057.34,133.73 L1059.31,134.09 L1061.28,134.45 L1063.25,134.8 L1065.22,135.15 L1067.19,135.5 L1069.16,135.85 L1071.13,136.19 L1073.1,136.54 L1075.07,136.89 L1077.04,137.23 L1079.01,137.58 L1080.98,137.93 L1082.95,138.28 L1084.92,138.62 L1086.89,138.97 L1088.86,139.32 L1090.83,139.66 L1092.81,140.01 L1094.78,140.34 L1096.75,140.67 L1098.73,140.97 L1100.71,141.26 L1102.69,141.53 L1104.67,141.81 L1106.66,142.08 L1108.64,142.35 L1110.62,142.62 L1112.6,142.89 L1114.58,143.16 L1116.57,143.43 L1118.55,143.7 L1120.53,143.97 L1122.51,144.24 L1124.5,144.51 L1126.48,144.78 L1128.46,145.05 L1130.44,145.32 L1132.43,145.59 L1134.41,145.86 L1135.4,146" stroke="#1a16c0" stroke-width="2.1" fill="none" stroke-linejoin="round"/>
<path d="M689.8,300.8 L691.22,299.38 L692.63,297.97 L694.02,296.53 L695.35,295.05 L696.6,293.5 L697.76,291.88 L698.86,290.21 L699.92,288.52 L700.98,286.82 L702.03,285.11 L703.05,283.39 L704.02,281.65 L704.95,279.87 L705.83,278.08 L706.69,276.27 L707.54,274.46 L708.39,272.65 L709.24,270.83 L710.09,269.02 L710.92,267.2 L711.72,265.36 L712.5,263.52 L713.26,261.67 L714,259.81 L714.75,257.95 L715.49,256.09 L716.23,254.23 L716.97,252.37 L717.7,250.5 L718.44,248.64 L719.16,246.77 L719.87,244.9 L720.57,243.03 L721.26,241.15 L721.95,239.27 L722.64,237.39 L723.33,235.51 L724.02,233.63 L724.71,231.75 L725.41,229.87 L726.11,228 L726.85,226.14 L727.63,224.29 L728.44,222.47 L729.28,220.65 L730.13,218.83 L730.98,217.02 L731.83,215.21 L732.68,213.4 L733.55,211.59 L734.43,209.79 L735.34,208.01 L736.27,206.24 L737.21,204.47 L738.16,202.71 L739.12,200.95 L740.07,199.19 L741.03,197.43 L742.01,195.69 L743.04,193.97 L744.12,192.3 L745.26,190.65 L746.43,189.03 L747.62,187.42 L748.81,185.81 L749.99,184.19 L751.18,182.58 L752.38,180.98 L753.58,179.37 L754.81,177.79 L756.07,176.25 L757.38,174.74 L758.73,173.25 L760.08,171.78 L761.45,170.32 L762.81,168.85 L764.17,167.38 L765.54,165.92 L766.92,164.47 L768.32,163.05 L769.77,161.66 L771.25,160.32 L772.75,159 L774.27,157.69 L775.79,156.39 L777.31,155.08 L778.83,153.79 L780.37,152.5 L781.92,151.24 L783.5,150.01 L785.11,148.82 L786.73,147.64 L788.35,146.48 L789.98,145.31 L791.62,144.16 L793.26,143.02 L794.94,141.93 L796.65,140.9 L798.4,139.94 L800.18,139.02 L801.96,138.12 L803.76,137.23 L805.55,136.35 L807.37,135.52 L809.21,134.75 L811.09,134.08 L813,133.48 L814.91,132.91 L816.84,132.36 L818.77,131.83 L820.7,131.32 L822.65,130.85 L824.6,130.44 L826.57,130.07 L828.54,129.72 L830.52,129.38 L832.49,129.06 L834.47,128.77 L836.45,128.52 L838.44,128.32 L840.44,128.15 L842.44,128 L844.43,127.85 L846.43,127.7 L848.43,127.54 L850.42,127.37 L852.41,127.16 L854.4,126.92 L856.38,126.65 L858.36,126.38 L860.35,126.1 L862.33,125.84 L864.32,125.59 L866.31,125.36 L868.3,125.15 L870.29,124.95 L872.28,124.75 L874.27,124.54 L876.26,124.32 L878.25,124.08 L880.24,123.84 L882.23,123.59 L884.22,123.35 L886.2,123.13 L888.2,122.94 L890.19,122.78 L892.19,122.64 L894.19,122.52 L896.19,122.41 L898.19,122.31 L900.19,122.23 L902.19,122.17 L904.19,122.13 L906.19,122.09 L908.19,122.06 L910.2,122.03 L912.2,122.01 L914.2,122.01 L916.2,122 L918.21,122 L920.21,122.01 L922.21,122.03 L924.21,122.08 L926.21,122.15 L928.21,122.24 L930.21,122.34 L932.21,122.45 L934.21,122.58 L936.21,122.72 L938.2,122.9 L940.19,123.09 L942.19,123.28 L944.18,123.49 L946.17,123.69 L948.16,123.89 L950.15,124.09 L952.15,124.29 L954.14,124.49 L956.13,124.7 L958.12,124.92 L960.11,125.16 L962.09,125.42 L964.08,125.7 L966.06,125.98 L968.04,126.27 L970.02,126.58 L971.99,126.9 L973.97,127.24 L975.94,127.6 L977.91,127.95 L979.88,128.3 L981.85,128.62 L983.83,128.9 L985.82,129.14 L987.81,129.35 L989.8,129.54 L991.8,129.73 L993.79,129.92 L995.78,130.11 L997.77,130.32 L999.76,130.57 L1001.74,130.85 L1003.72,131.18 L1005.69,131.52 L1007.66,131.87 L1009.63,132.22 L1011.6,132.57 L1013.57,132.92 L1015.55,133.27 L1017.52,133.62 L1019.49,133.97 L1021.46,134.33 L1023.43,134.67 L1025.4,135.02 L1027.38,135.35 L1029.35,135.69 L1031.33,136.01 L1033.3,136.34 L1035.28,136.67 L1037.26,136.99 L1039.23,137.32 L1041.21,137.65 L1043.18,137.97 L1045.16,138.3 L1047.13,138.63 L1049.11,138.95 L1051.09,139.28 L1053.06,139.61 L1055.04,139.93 L1057.01,140.26 L1058.99,140.57 L1060.97,140.88 L1062.95,141.18 L1064.93,141.45 L1066.91,141.72 L1068.9,141.99 L1070.88,142.26 L1072.87,142.52 L1074.85,142.79 L1076.84,143.06 L1078.82,143.32 L1080.81,143.59 L1082.79,143.85 L1084.78,144.12 L1086.76,144.39 L1088.75,144.65 L1090.73,144.92 L1092.72,145.19 L1094.7,145.45 L1096.69,145.71 L1098.67,145.98 L1100.66,146.24 L1102.64,146.5 L1104.63,146.76 L1106.61,147.02 L1108.6,147.28 L1110.58,147.54 L1112.57,147.8 L1114.55,148.06 L1116.54,148.32 L1118.52,148.59 L1120.51,148.85 L1122.49,149.11 L1124.48,149.37 L1126.47,149.63 L1128.45,149.89 L1130.44,150.15 L1132.42,150.41 L1134.41,150.67 L1135.4,150.8" stroke="#d8202a" stroke-width="2.0" fill="none" stroke-linejoin="round"/>
<path d="M1292,48.7 V360.5 M1277,345.5 H1737 M1284.4,332.74 H1292 M1284.4,325.27 H1292 M1284.4,319.97 H1292 M1284.4,315.86 H1292 M1284.4,312.51 H1292 M1284.4,309.67 H1292 M1284.4,307.21 H1292 M1284.4,305.04 H1292 M1277,303.1 H1292 M1284.4,290.34 H1292 M1284.4,282.87 H1292 M1284.4,277.57 H1292 M1284.4,273.46 H1292 M1284.4,270.11 H1292 M1284.4,267.27 H1292 M1284.4,264.81 H1292 M1284.4,262.64 H1292 M1277,260.7 H1292 M1284.4,247.94 H1292 M1284.4,240.47 H1292 M1284.4,235.17 H1292 M1284.4,231.06 H1292 M1284.4,227.71 H1292 M1284.4,224.87 H1292 M1284.4,222.41 H1292 M1284.4,220.24 H1292 M1277,218.3 H1292 M1284.4,205.54 H1292 M1284.4,198.07 H1292 M1284.4,192.77 H1292 M1284.4,188.66 H1292 M1284.4,185.31 H1292 M1284.4,182.47 H1292 M1284.4,180.01 H1292 M1284.4,177.84 H1292 M1277,175.9 H1292 M1284.4,163.14 H1292 M1284.4,155.67 H1292 M1284.4,150.37 H1292 M1284.4,146.26 H1292 M1284.4,142.91 H1292 M1284.4,140.07 H1292 M1284.4,137.61 H1292 M1284.4,135.44 H1292 M1277,133.5 H1292 M1284.4,120.74 H1292 M1284.4,113.27 H1292 M1284.4,107.97 H1292 M1284.4,103.86 H1292 M1284.4,100.51 H1292 M1284.4,97.67 H1292 M1284.4,95.21 H1292 M1284.4,93.04 H1292 M1277,91.1 H1292 M1284.4,78.34 H1292 M1284.4,70.87 H1292 M1284.4,65.57 H1292 M1284.4,61.46 H1292 M1284.4,58.11 H1292 M1284.4,55.27 H1292 M1284.4,52.81 H1292 M1284.4,50.64 H1292 M1277,48.7 H1292 M1323.79,345.5 V353.1 M1355.57,345.5 V360.5 M1387.36,345.5 V353.1 M1419.14,345.5 V360.5 M1450.93,345.5 V353.1 M1482.71,345.5 V360.5 M1514.5,345.5 V353.1 M1546.29,345.5 V360.5 M1578.07,345.5 V353.1 M1609.86,345.5 V360.5 M1641.64,345.5 V353.1 M1673.43,345.5 V360.5 M1705.21,345.5 V353.1 M1737,345.5 V360.5" stroke="#000" stroke-width="1.9" fill="none"/>
<text x="1268.8" y="355.5" text-anchor="end" font-size="24.4">10<tspan font-size="14" dy="-11.6">-5</tspan></text>
<text x="1268.8" y="313.1" text-anchor="end" font-size="24.4">10<tspan font-size="14" dy="-11.6">-4</tspan></text>
<text x="1268.8" y="270.7" text-anchor="end" font-size="24.4">10<tspan font-size="14" dy="-11.6">-3</tspan></text>
<text x="1268.8" y="228.3" text-anchor="end" font-size="24.4">10<tspan font-size="14" dy="-11.6">-2</tspan></text>
<text x="1268.8" y="185.9" text-anchor="end" font-size="24.4">10<tspan font-size="14" dy="-11.6">-1</tspan></text>
<text x="1268.8" y="143.5" text-anchor="end" font-size="24.4">10<tspan font-size="14" dy="-11.6">0</tspan></text>
<text x="1268.8" y="101.1" text-anchor="end" font-size="24.4">10<tspan font-size="14" dy="-11.6">1</tspan></text>
<text x="1268.8" y="58.7" text-anchor="end" font-size="24.4">10<tspan font-size="14" dy="-11.6">2</tspan></text>
<text x="1292" y="390.1" text-anchor="middle" font-size="24.3">1950</text>
<text x="1355.57" y="390.1" text-anchor="middle" font-size="24.3">1960</text>
<text x="1419.14" y="390.1" text-anchor="middle" font-size="24.3">1970</text>
<text x="1482.71" y="390.1" text-anchor="middle" font-size="24.3">1980</text>
<text x="1546.29" y="390.1" text-anchor="middle" font-size="24.3">1990</text>
<text x="1609.86" y="390.1" text-anchor="middle" font-size="24.3">2000</text>
<text x="1673.43" y="390.1" text-anchor="middle" font-size="24.3">2010</text>
<text x="1737" y="390.1" text-anchor="middle" font-size="24.3">2020</text>
<text x="1514.5" y="417.8" text-anchor="middle" font-size="25" xml:space="preserve">Time  (y)</text>
<text transform="translate(1219.5,197.1) rotate(-90)" text-anchor="middle" font-size="25">Concentration  (Bq m<tspan font-size="13" dy="-9">-3</tspan><tspan dy="9">)</tspan></text>
<text x="1610.2" y="76.2" font-size="25">Box no. 138</text>
<text x="1199.5" y="25" font-size="32.3" font-weight="bold">C</text>
<path d="M1291.7,211 L1291.97,209.02 L1292.24,207.03 L1292.51,205.05 L1292.79,203.06 L1293.06,201.08 L1293.33,199.1 L1293.6,197.11 L1293.87,195.13 L1294.14,193.14 L1294.48,191.17 L1294.9,189.21 L1295.33,187.26 L1295.75,185.3 L1296.17,183.34 L1296.59,181.39 L1297.02,179.43 L1297.44,177.47 L1297.86,175.51 L1298.39,173.61 L1299.5,171.97 L1300.73,170.39 L1301.96,168.81 L1303.19,167.23 L1304.41,165.64 L1305.33,163.9 L1305.97,162 L1306.61,160.1 L1307.25,158.21 L1307.88,156.31 L1308.52,154.41 L1309.16,152.51 L1309.79,150.61 L1310.37,148.69 L1310.94,146.77 L1311.51,144.86 L1312.09,142.94 L1312.66,141.02 L1313.23,139.1 L1313.8,137.18 L1314.38,135.26 L1314.95,133.34 L1315.58,131.44 L1316.43,129.64 L1317.33,127.85 L1318.22,126.06 L1319.12,124.26 L1320.01,122.47 L1320.91,120.68 L1321.8,118.89 L1322.72,117.12 L1324.05,115.72 L1325.74,114.65 L1327.44,113.6 L1329.14,112.54 L1330.87,111.54 L1332.74,110.85 L1334.64,110.22 L1336.5,109.51 L1338.16,108.41 L1339.79,107.24 L1341.42,106.08 L1343.02,104.88 L1344.44,103.47 L1345.81,102.01 L1347.17,100.55 L1348.57,99.25 L1350.23,99.37 L1352.02,100.24 L1353.82,101.12 L1355.64,101.92 L1357.6,102.27 L1359.58,102.54 L1361.52,102.71 L1362.99,101.78 L1364.18,100.18 L1365.36,98.56 L1366.53,96.94 L1367.58,95.24 L1368.56,93.49 L1369.53,91.74 L1370.5,89.99 L1371.47,88.23 L1372.44,86.48 L1373.47,84.82 L1375.1,84.06 L1377.08,83.84 L1379.07,83.64 L1381,83.83 L1382.86,84.56 L1384.71,85.33 L1386.56,86.1 L1388.39,86.89 L1390.21,87.73 L1392.03,88.57 L1393.85,89.41 L1395.67,90.25 L1397.5,91.04 L1399.42,91.58 L1401.36,92.07 L1403.31,92.56 L1405.25,93.05 L1407.19,93.54 L1409.14,94.01 L1411.11,94.36 L1413.08,94.71 L1415.05,95.05 L1417.03,95.39 L1419,95.73 L1420.97,96.07 L1422.95,96.39 L1424.93,96.68 L1426.91,96.96 L1428.9,97.24 L1430.88,97.53 L1432.86,97.81 L1434.84,98.08 L1436.84,98.21 L1438.84,98.24 L1440.84,98.26 L1442.84,98.29 L1444.85,98.31 L1446.85,98.34 L1448.85,98.36 L1450.85,98.38 L1452.83,98.19 L1454.79,97.77 L1456.75,97.34 L1458.7,96.91 L1460.66,96.49 L1462.62,96.06 L1464.57,95.61 L1466.51,95.12 L1468.45,94.64 L1470.39,94.15 L1472.34,93.67 L1474.28,93.18 L1476.23,92.76 L1478.22,92.48 L1480.2,92.21 L1482.18,91.94 L1484.17,91.67 L1486.15,91.41 L1488.14,91.21 L1490.14,91.16 L1492.15,91.13 L1494.15,91.09 L1496.15,91.06 L1498.15,91.03 L1500.15,91.05 L1502.15,91.18 L1504.15,91.31 L1506.15,91.45 L1508.15,91.59 L1510.14,91.72 L1512.13,91.79 L1513.99,91.24 L1515.77,90.34 L1517.56,89.44 L1519.35,88.54 L1521.17,87.84 L1523.14,87.91 L1525.13,88.1 L1527.13,88.3 L1529.05,88.78 L1530.89,89.55 L1532.73,90.34 L1534.57,91.12 L1536.42,91.91 L1538.26,92.7 L1540.1,93.49 L1541.95,94.25 L1543.81,94.99 L1545.67,95.73 L1547.53,96.46 L1549.4,97.2 L1551.26,97.93 L1553.12,98.66 L1555.01,99.34 L1556.9,100 L1558.79,100.67 L1560.67,101.34 L1562.56,102 L1564.45,102.67 L1566.36,103.28 L1568.28,103.85 L1570.19,104.43 L1572.11,105 L1574.03,105.58 L1575.95,106.15 L1577.89,106.61 L1579.87,106.93 L1581.85,107.24 L1583.83,107.54 L1585.81,107.85 L1587.78,108.16 L1589.76,108.47 L1591.74,108.79 L1593.72,109.11 L1595.69,109.44 L1597.67,109.76 L1599.64,110.09 L1601.62,110.41 L1603.59,110.74 L1605.57,111.07 L1607.55,111.39 L1609.52,111.72 L1611.5,112.04 L1613.47,112.37 L1615.45,112.69 L1617.42,113.02 L1619.4,113.35 L1621.38,113.67 L1623.35,114 L1625.33,114.32 L1627.3,114.65 L1629.28,114.97 L1631.25,115.3 L1633.23,115.63 L1635.21,115.95 L1637.18,116.28 L1639.16,116.61 L1641.13,116.93 L1643.11,117.26 L1645.08,117.59 L1647.06,117.91 L1649.04,118.24 L1651.01,118.57 L1652.99,118.89 L1654.96,119.22 L1656.94,119.55 L1658.91,119.87 L1660.89,120.2 L1662.86,120.53 L1664.84,120.86 L1666.81,121.19 L1668.79,121.52 L1670.76,121.85 L1672.74,122.18 L1674.71,122.51 L1676.69,122.85 L1678.66,123.18 L1680.64,123.51 L1682.61,123.84 L1684.59,124.17 L1686.56,124.5 L1688.54,124.83 L1690.51,125.16 L1692.49,125.49 L1694.46,125.82 L1696.44,126.15 L1698.42,126.43 L1700.41,126.67 L1702.4,126.9 L1704.39,127.13 L1706.38,127.37 L1708.36,127.6 L1710.35,127.84 L1712.34,128.07 L1714.33,128.31 L1716.32,128.54 L1718.31,128.77 L1720.3,129.01 L1722.28,129.24 L1724.27,129.48 L1726.26,129.71 L1728.25,129.95 L1730.24,130.18 L1732.23,130.41 L1734.22,130.65 L1736.21,130.88 L1737.2,131" stroke="#000000" stroke-width="1.9" fill="none" stroke-linejoin="round"/>
<circle cx="1578.3" cy="110.7" r="5.2" fill="#0a14f0"/>
<circle cx="1431.8" cy="108.7" r="5.2" fill="#050505"/>
<circle cx="1487.7" cy="108.3" r="5.2" fill="#050505"/>
<circle cx="1496" cy="105.9" r="5.2" fill="#050505"/>
<circle cx="1578.3" cy="95.2" r="5.2" fill="#050505"/>
<circle cx="1584.2" cy="97.5" r="5.2" fill="#050505"/>
<circle cx="1596.4" cy="97.5" r="5.2" fill="#050505"/>
<circle cx="1603.7" cy="95.3" r="5.2" fill="#050505"/>
<circle cx="1686" cy="120.3" r="5.2" fill="#050505"/>
<circle cx="1693.1" cy="120.1" r="5.2" fill="#050505"/>
<circle cx="1705" cy="120.9" r="5.2" fill="#050505"/>
<circle cx="1431.8" cy="113.4" r="5.2" fill="#f01414"/>
<path d="M1291.7,218.6 L1292.84,216.96 L1293.98,215.31 L1295.13,213.67 L1296.24,212.01 L1297.31,210.32 L1298.3,208.59 L1299.2,206.81 L1300.04,205 L1300.85,203.17 L1301.65,201.34 L1302.47,199.51 L1303.3,197.69 L1304.14,195.87 L1304.98,194.05 L1305.79,192.22 L1306.53,190.37 L1307.2,188.49 L1307.78,186.58 L1308.33,184.66 L1308.87,182.73 L1309.42,180.81 L1310,178.89 L1310.63,177 L1311.29,175.11 L1311.97,173.22 L1312.65,171.34 L1313.33,169.45 L1314.01,167.57 L1314.69,165.69 L1315.38,163.81 L1316.08,161.93 L1316.82,160.08 L1317.65,158.27 L1318.58,156.51 L1319.59,154.79 L1320.64,153.08 L1321.7,151.39 L1322.77,149.7 L1323.84,148.01 L1324.92,146.32 L1326.03,144.66 L1327.19,143.03 L1328.4,141.44 L1329.67,139.89 L1330.95,138.36 L1332.25,136.83 L1333.55,135.31 L1334.85,133.79 L1336.16,132.28 L1337.51,130.8 L1338.91,129.38 L1340.38,128.03 L1341.89,126.72 L1343.42,125.42 L1344.95,124.14 L1346.5,122.88 L1348.08,121.65 L1349.7,120.5 L1351.39,119.45 L1353.14,118.49 L1354.91,117.57 L1356.71,116.68 L1358.51,115.81 L1360.32,114.96 L1362.15,114.16 L1363.99,113.39 L1365.84,112.61 L1367.64,111.78 L1369.39,110.84 L1371.07,109.78 L1372.7,108.63 L1374.32,107.46 L1375.94,106.29 L1377.58,105.14 L1379.24,104.02 L1380.91,102.92 L1382.6,101.85 L1384.31,100.85 L1386.09,100 L1387.93,99.32 L1389.84,98.8 L1391.79,98.37 L1393.75,97.99 L1395.72,97.66 L1397.7,97.42 L1399.69,97.28 L1401.69,97.22 L1403.69,97.2 L1405.69,97.21 L1407.69,97.23 L1409.69,97.29 L1411.68,97.4 L1413.67,97.58 L1415.66,97.8 L1417.65,98.05 L1419.64,98.29 L1421.62,98.55 L1423.61,98.81 L1425.59,99.09 L1427.56,99.41 L1429.54,99.75 L1431.51,100.11 L1433.48,100.48 L1435.44,100.84 L1437.42,101.17 L1439.4,101.45 L1441.38,101.65 L1443.38,101.78 L1445.37,101.87 L1447.37,101.95 L1449.38,102.01 L1451.38,102.08 L1453.38,102.13 L1455.38,102.15 L1457.37,102.09 L1459.35,101.93 L1461.34,101.69 L1463.31,101.38 L1465.29,101.06 L1467.26,100.73 L1469.24,100.4 L1471.21,100.07 L1473.19,99.76 L1475.17,99.47 L1477.15,99.21 L1479.14,98.98 L1481.13,98.76 L1483.13,98.56 L1485.12,98.36 L1487.11,98.16 L1489.1,97.97 L1491.1,97.8 L1493.09,97.67 L1495.09,97.61 L1497.09,97.6 L1499.09,97.63 L1501.09,97.67 L1503.09,97.71 L1505.1,97.76 L1507.1,97.8 L1509.1,97.82 L1511.1,97.83 L1513.1,97.8 L1515.1,97.74 L1517.1,97.66 L1519.1,97.58 L1521.1,97.5 L1523.1,97.43 L1525.1,97.39 L1527.09,97.42 L1529.07,97.58 L1531.05,97.85 L1533.01,98.21 L1534.97,98.6 L1536.93,99.01 L1538.89,99.44 L1540.83,99.9 L1542.77,100.4 L1544.7,100.94 L1546.62,101.51 L1548.53,102.09 L1550.45,102.67 L1552.37,103.25 L1554.28,103.83 L1556.2,104.41 L1558.12,104.99 L1560.03,105.56 L1561.95,106.13 L1563.88,106.66 L1565.82,107.16 L1567.77,107.6 L1569.73,108.02 L1571.69,108.41 L1573.65,108.8 L1575.62,109.16 L1577.6,109.5 L1579.57,109.8 L1581.56,110.08 L1583.54,110.35 L1585.53,110.61 L1587.51,110.88 L1589.49,111.15 L1591.48,111.44 L1593.46,111.73 L1595.44,112.04 L1597.41,112.34 L1599.39,112.64 L1601.37,112.95 L1603.35,113.25 L1605.33,113.56 L1607.31,113.86 L1609.29,114.16 L1611.27,114.47 L1613.25,114.77 L1615.23,115.08 L1617.21,115.38 L1619.19,115.68 L1621.17,115.99 L1623.14,116.29 L1625.13,116.58 L1627.11,116.86 L1629.09,117.14 L1631.08,117.41 L1633.06,117.68 L1635.04,117.94 L1637.03,118.21 L1639.01,118.48 L1641,118.74 L1642.98,119.01 L1644.97,119.28 L1646.95,119.54 L1648.94,119.81 L1650.92,120.08 L1652.91,120.34 L1654.89,120.61 L1656.87,120.88 L1658.86,121.15 L1660.84,121.43 L1662.82,121.71 L1664.8,122 L1666.78,122.3 L1668.76,122.6 L1670.74,122.89 L1672.72,123.19 L1674.7,123.49 L1676.68,123.79 L1678.66,124.09 L1680.64,124.39 L1682.62,124.69 L1684.6,124.99 L1686.58,125.28 L1688.56,125.58 L1690.54,125.88 L1692.52,126.18 L1694.51,126.47 L1696.49,126.76 L1698.47,127.03 L1700.46,127.3 L1702.44,127.56 L1704.43,127.81 L1706.41,128.06 L1708.4,128.32 L1710.39,128.57 L1712.37,128.83 L1714.36,129.08 L1716.34,129.33 L1718.33,129.59 L1720.32,129.84 L1722.3,130.1 L1724.29,130.35 L1726.28,130.6 L1728.26,130.86 L1730.25,131.11 L1732.23,131.37 L1734.22,131.62 L1736.21,131.87 L1737.2,132" stroke="#1a16c0" stroke-width="2.1" fill="none" stroke-linejoin="round"/>
<path d="M1291.7,257.7 L1293.11,256.29 L1294.53,254.87 L1295.94,253.46 L1297.34,252.03 L1298.71,250.58 L1300.02,249.08 L1301.24,247.51 L1302.41,245.89 L1303.53,244.24 L1304.64,242.58 L1305.74,240.91 L1306.81,239.22 L1307.84,237.51 L1308.81,235.76 L1309.73,233.99 L1310.63,232.2 L1311.52,230.41 L1312.41,228.62 L1313.3,226.83 L1314.18,225.03 L1315.05,223.23 L1315.9,221.42 L1316.73,219.61 L1317.55,217.78 L1318.36,215.95 L1319.18,214.13 L1319.99,212.3 L1320.8,210.47 L1321.61,208.64 L1322.42,206.81 L1323.23,204.99 L1324.04,203.15 L1324.84,201.32 L1325.64,199.49 L1326.45,197.66 L1327.25,195.83 L1328.04,193.99 L1328.82,192.15 L1329.56,190.3 L1330.26,188.42 L1330.92,186.54 L1331.57,184.65 L1332.26,182.78 L1333.02,180.94 L1333.87,179.14 L1334.8,177.37 L1335.75,175.61 L1336.72,173.86 L1337.69,172.11 L1338.66,170.37 L1339.64,168.62 L1340.64,166.89 L1341.68,165.2 L1342.81,163.55 L1344.01,161.96 L1345.27,160.42 L1346.55,158.89 L1347.85,157.36 L1349.15,155.84 L1350.45,154.32 L1351.77,152.82 L1353.12,151.36 L1354.54,149.95 L1356.01,148.6 L1357.51,147.29 L1359.03,145.98 L1360.55,144.69 L1362.07,143.39 L1363.6,142.1 L1365.14,140.82 L1366.69,139.57 L1368.27,138.34 L1369.87,137.14 L1371.49,135.97 L1373.11,134.79 L1374.73,133.62 L1376.35,132.45 L1377.98,131.29 L1379.62,130.15 L1381.27,129.02 L1382.94,127.92 L1384.62,126.83 L1386.3,125.75 L1387.98,124.67 L1389.67,123.6 L1391.37,122.55 L1393.1,121.55 L1394.86,120.63 L1396.66,119.77 L1398.49,118.96 L1400.33,118.16 L1402.16,117.38 L1404.01,116.62 L1405.87,115.9 L1407.76,115.26 L1409.67,114.7 L1411.61,114.19 L1413.55,113.72 L1415.5,113.28 L1417.45,112.89 L1419.42,112.6 L1421.4,112.4 L1423.4,112.25 L1425.39,112.14 L1427.39,112.05 L1429.39,111.98 L1431.39,111.93 L1433.39,111.91 L1435.39,111.9 L1437.39,111.9 L1439.39,111.9 L1441.39,111.9 L1443.39,111.91 L1445.39,111.92 L1447.39,111.94 L1449.39,111.97 L1451.39,112 L1453.38,112.03 L1455.38,112.07 L1457.38,112.1 L1459.38,112.13 L1461.38,112.16 L1463.38,112.19 L1465.38,112.21 L1467.38,112.23 L1469.38,112.25 L1471.38,112.26 L1473.38,112.28 L1475.38,112.3 L1477.38,112.31 L1479.38,112.33 L1481.38,112.35 L1483.38,112.36 L1485.38,112.38 L1487.38,112.4 L1489.38,112.42 L1491.38,112.45 L1493.38,112.47 L1495.38,112.5 L1497.38,112.52 L1499.38,112.55 L1501.38,112.57 L1503.38,112.6 L1505.38,112.62 L1507.38,112.65 L1509.38,112.68 L1511.38,112.73 L1513.38,112.78 L1515.38,112.85 L1517.38,112.92 L1519.38,113 L1521.37,113.07 L1523.37,113.15 L1525.37,113.22 L1527.37,113.3 L1529.37,113.37 L1531.37,113.46 L1533.36,113.55 L1535.36,113.67 L1537.35,113.83 L1539.34,114.01 L1541.34,114.2 L1543.33,114.4 L1545.32,114.6 L1547.31,114.8 L1549.3,115 L1551.28,115.2 L1553.27,115.4 L1555.26,115.6 L1557.26,115.8 L1559.25,116 L1561.24,116.19 L1563.23,116.38 L1565.22,116.57 L1567.21,116.75 L1569.2,116.94 L1571.19,117.13 L1573.18,117.32 L1575.17,117.5 L1577.17,117.69 L1579.16,117.88 L1581.15,118.07 L1583.14,118.25 L1585.13,118.44 L1587.12,118.64 L1589.11,118.84 L1591.1,119.06 L1593.09,119.29 L1595.07,119.52 L1597.06,119.77 L1599.04,120.01 L1601.03,120.26 L1603.01,120.5 L1605,120.74 L1606.98,120.99 L1608.97,121.23 L1610.95,121.48 L1612.94,121.72 L1614.92,121.96 L1616.91,122.21 L1618.89,122.45 L1620.88,122.69 L1622.86,122.94 L1624.85,123.18 L1626.83,123.42 L1628.82,123.65 L1630.81,123.89 L1632.79,124.12 L1634.78,124.36 L1636.77,124.59 L1638.75,124.82 L1640.74,125.06 L1642.72,125.29 L1644.71,125.52 L1646.7,125.76 L1648.68,125.99 L1650.67,126.23 L1652.66,126.46 L1654.64,126.69 L1656.63,126.93 L1658.61,127.16 L1660.6,127.39 L1662.59,127.62 L1664.57,127.85 L1666.56,128.08 L1668.55,128.31 L1670.54,128.53 L1672.52,128.76 L1674.51,128.99 L1676.5,129.22 L1678.48,129.45 L1680.47,129.67 L1682.46,129.9 L1684.45,130.13 L1686.43,130.36 L1688.42,130.58 L1690.41,130.81 L1692.39,131.04 L1694.38,131.26 L1696.37,131.47 L1698.36,131.68 L1700.35,131.87 L1702.34,132.05 L1704.33,132.23 L1706.32,132.41 L1708.32,132.59 L1710.31,132.77 L1712.3,132.95 L1714.29,133.13 L1716.28,133.31 L1718.28,133.49 L1720.27,133.67 L1722.26,133.85 L1724.25,134.03 L1726.24,134.21 L1728.24,134.39 L1730.23,134.57 L1732.22,134.75 L1734.21,134.93 L1736.2,135.11 L1737.2,135.2" stroke="#d8202a" stroke-width="2.0" fill="none" stroke-linejoin="round"/>
<circle cx="1431.8" cy="123.4" r="5.2" fill="#14f014"/>
<circle cx="1489.5" cy="116.9" r="5.2" fill="#14f014"/>
<path d="M1291.7,313 L1292.99,311.47 L1294.29,309.95 L1295.58,308.42 L1296.87,306.89 L1298.16,305.36 L1299.45,303.83 L1300.71,302.27 L1301.92,300.69 L1303.07,299.06 L1304.17,297.39 L1305.24,295.7 L1306.3,294 L1307.35,292.3 L1308.41,290.6 L1309.46,288.9 L1310.5,287.19 L1311.53,285.47 L1312.54,283.74 L1313.52,282 L1314.5,280.26 L1315.47,278.51 L1316.44,276.76 L1317.42,275.01 L1318.39,273.26 L1319.35,271.51 L1320.3,269.74 L1321.21,267.97 L1322.09,266.17 L1322.95,264.36 L1323.78,262.54 L1324.62,260.72 L1325.45,258.9 L1326.28,257.08 L1327.11,255.26 L1327.95,253.44 L1328.78,251.62 L1329.61,249.8 L1330.44,247.98 L1331.27,246.16 L1332.09,244.34 L1332.92,242.51 L1333.74,240.69 L1334.57,238.87 L1335.39,237.04 L1336.22,235.22 L1337.04,233.4 L1337.87,231.58 L1338.7,229.76 L1339.55,227.94 L1340.43,226.15 L1341.35,224.37 L1342.3,222.61 L1343.27,220.86 L1344.24,219.11 L1345.21,217.36 L1346.18,215.61 L1347.16,213.86 L1348.14,212.12 L1349.13,210.38 L1350.14,208.66 L1351.18,206.95 L1352.24,205.25 L1353.31,203.56 L1354.38,201.87 L1355.47,200.19 L1356.58,198.53 L1357.73,196.89 L1358.89,195.26 L1360.07,193.64 L1361.26,192.03 L1362.45,190.42 L1363.65,188.82 L1364.87,187.24 L1366.12,185.68 L1367.4,184.14 L1368.69,182.61 L1369.99,181.09 L1371.3,179.57 L1372.6,178.06 L1373.91,176.55 L1375.25,175.06 L1376.63,173.62 L1378.07,172.24 L1379.56,170.9 L1381.06,169.59 L1382.58,168.28 L1384.1,166.98 L1385.62,165.68 L1387.15,164.38 L1388.69,163.11 L1390.25,161.86 L1391.84,160.65 L1393.46,159.47 L1395.08,158.3 L1396.71,157.14 L1398.34,155.98 L1399.97,154.82 L1401.62,153.69 L1403.29,152.59 L1404.99,151.55 L1406.72,150.54 L1408.46,149.55 L1410.2,148.56 L1411.95,147.58 L1413.69,146.61 L1415.45,145.64 L1417.21,144.71 L1419.01,143.84 L1420.83,143.02 L1422.68,142.25 L1424.53,141.5 L1426.39,140.76 L1428.25,140.04 L1430.13,139.36 L1432.03,138.75 L1433.96,138.23 L1435.9,137.78 L1437.86,137.36 L1439.82,136.96 L1441.78,136.58 L1443.75,136.22 L1445.72,135.87 L1447.69,135.55 L1449.67,135.23 L1451.65,134.91 L1453.62,134.59 L1455.6,134.29 L1457.58,134 L1459.56,133.74 L1461.55,133.5 L1463.54,133.27 L1465.53,133.05 L1467.52,132.83 L1469.5,132.6 L1471.49,132.39 L1473.48,132.18 L1475.48,132 L1477.47,131.85 L1479.47,131.72 L1481.47,131.62 L1483.46,131.51 L1485.46,131.41 L1487.46,131.31 L1489.46,131.21 L1491.46,131.13 L1493.46,131.06 L1495.46,131.02 L1497.46,131.01 L1499.46,131 L1501.46,131 L1503.46,131 L1505.47,131 L1507.47,131 L1509.47,131.01 L1511.47,131.02 L1513.47,131.05 L1515.47,131.09 L1517.47,131.13 L1519.47,131.17 L1521.47,131.21 L1523.47,131.25 L1525.48,131.29 L1527.48,131.33 L1529.48,131.38 L1531.48,131.42 L1533.48,131.47 L1535.48,131.54 L1537.48,131.62 L1539.48,131.71 L1541.48,131.81 L1543.47,131.91 L1545.47,132.01 L1547.47,132.11 L1549.47,132.21 L1551.47,132.31 L1553.47,132.41 L1555.47,132.51 L1557.47,132.61 L1559.46,132.71 L1561.46,132.8 L1563.46,132.89 L1565.46,132.98 L1567.46,133.08 L1569.46,133.17 L1571.46,133.26 L1573.46,133.35 L1575.46,133.44 L1577.46,133.53 L1579.46,133.62 L1581.46,133.71 L1583.46,133.8 L1585.45,133.89 L1587.45,133.99 L1589.45,134.09 L1591.45,134.2 L1593.45,134.33 L1595.45,134.45 L1597.44,134.58 L1599.44,134.71 L1601.44,134.83 L1603.43,134.96 L1605.43,135.09 L1607.43,135.22 L1609.43,135.35 L1611.42,135.48 L1613.42,135.6 L1615.42,135.73 L1617.41,135.86 L1619.41,135.99 L1621.41,136.12 L1623.41,136.25 L1625.4,136.38 L1627.4,136.51 L1629.4,136.64 L1631.39,136.78 L1633.39,136.91 L1635.39,137.04 L1637.38,137.18 L1639.38,137.31 L1641.38,137.45 L1643.37,137.58 L1645.37,137.72 L1647.37,137.85 L1649.36,137.98 L1651.36,138.12 L1653.36,138.25 L1655.35,138.39 L1657.35,138.52 L1659.35,138.66 L1661.34,138.8 L1663.34,138.94 L1665.34,139.09 L1667.33,139.24 L1669.33,139.39 L1671.32,139.54 L1673.32,139.69 L1675.31,139.84 L1677.31,139.99 L1679.31,140.14 L1681.3,140.29 L1683.3,140.44 L1685.29,140.59 L1687.29,140.74 L1689.28,140.9 L1691.28,141.05 L1693.27,141.2 L1695.27,141.34 L1697.27,141.49 L1699.26,141.63 L1701.26,141.77 L1703.26,141.9 L1705.25,142.04 L1707.25,142.17 L1709.25,142.31 L1711.24,142.44 L1713.24,142.58 L1715.24,142.71 L1717.23,142.85 L1719.23,142.98 L1721.23,143.12 L1723.22,143.25 L1725.22,143.39 L1727.22,143.52 L1729.21,143.66 L1731.21,143.79 L1733.21,143.93 L1735.2,144.06 L1737.2,144.2" stroke="#1ee11e" stroke-width="2.0" fill="none" stroke-linejoin="round"/>
<path d="M99,453.6 V765.6 M84,750.6 H544.2 M91.4,737.83 H99 M91.4,730.36 H99 M91.4,725.06 H99 M91.4,720.94 H99 M91.4,717.58 H99 M91.4,714.74 H99 M91.4,712.28 H99 M91.4,710.11 H99 M84,708.17 H99 M91.4,695.4 H99 M91.4,687.93 H99 M91.4,682.63 H99 M91.4,678.52 H99 M91.4,675.16 H99 M91.4,672.32 H99 M91.4,669.85 H99 M91.4,667.68 H99 M84,665.74 H99 M91.4,652.97 H99 M91.4,645.5 H99 M91.4,640.2 H99 M91.4,636.09 H99 M91.4,632.73 H99 M91.4,629.89 H99 M91.4,627.43 H99 M91.4,625.26 H99 M84,623.31 H99 M91.4,610.54 H99 M91.4,603.07 H99 M91.4,597.77 H99 M91.4,593.66 H99 M91.4,590.3 H99 M91.4,587.46 H99 M91.4,585 H99 M91.4,582.83 H99 M84,580.89 H99 M91.4,568.11 H99 M91.4,560.64 H99 M91.4,555.34 H99 M91.4,551.23 H99 M91.4,547.87 H99 M91.4,545.03 H99 M91.4,542.57 H99 M91.4,540.4 H99 M84,538.46 H99 M91.4,525.68 H99 M91.4,518.21 H99 M91.4,512.91 H99 M91.4,508.8 H99 M91.4,505.44 H99 M91.4,502.6 H99 M91.4,500.14 H99 M91.4,497.97 H99 M84,496.03 H99 M91.4,483.26 H99 M91.4,475.78 H99 M91.4,470.48 H99 M91.4,466.37 H99 M91.4,463.01 H99 M91.4,460.17 H99 M91.4,457.71 H99 M91.4,455.54 H99 M84,453.6 H99 M130.8,750.6 V758.2 M162.6,750.6 V765.6 M194.4,750.6 V758.2 M226.2,750.6 V765.6 M258,750.6 V758.2 M289.8,750.6 V765.6 M321.6,750.6 V758.2 M353.4,750.6 V765.6 M385.2,750.6 V758.2 M417,750.6 V765.6 M448.8,750.6 V758.2 M480.6,750.6 V765.6 M512.4,750.6 V758.2 M544.2,750.6 V765.6" stroke="#000" stroke-width="1.9" fill="none"/>
<text x="75.8" y="760.6" text-anchor="end" font-size="24.4">10<tspan font-size="14" dy="-11.6">-5</tspan></text>
<text x="75.8" y="718.17" text-anchor="end" font-size="24.4">10<tspan font-size="14" dy="-11.6">-4</tspan></text>
<text x="75.8" y="675.74" text-anchor="end" font-size="24.4">10<tspan font-size="14" dy="-11.6">-3</tspan></text>
<text x="75.8" y="633.31" text-anchor="end" font-size="24.4">10<tspan font-size="14" dy="-11.6">-2</tspan></text>
<text x="75.8" y="590.89" text-anchor="end" font-size="24.4">10<tspan font-size="14" dy="-11.6">-1</tspan></text>
<text x="75.8" y="548.46" text-anchor="end" font-size="24.4">10<tspan font-size="14" dy="-11.6">0</tspan></text>
<text x="75.8" y="506.03" text-anchor="end" font-size="24.4">10<tspan font-size="14" dy="-11.6">1</tspan></text>
<text x="75.8" y="463.6" text-anchor="end" font-size="24.4">10<tspan font-size="14" dy="-11.6">2</tspan></text>
<text x="99" y="795.2" text-anchor="middle" font-size="24.3">1950</text>
<text x="162.6" y="795.2" text-anchor="middle" font-size="24.3">1960</text>
<text x="226.2" y="795.2" text-anchor="middle" font-size="24.3">1970</text>
<text x="289.8" y="795.2" text-anchor="middle" font-size="24.3">1980</text>
<text x="353.4" y="795.2" text-anchor="middle" font-size="24.3">1990</text>
<text x="417" y="795.2" text-anchor="middle" font-size="24.3">2000</text>
<text x="480.6" y="795.2" text-anchor="middle" font-size="24.3">2010</text>
<text x="544.2" y="795.2" text-anchor="middle" font-size="24.3">2020</text>
<text x="321.6" y="822.9" text-anchor="middle" font-size="25" xml:space="preserve">Time  (y)</text>
<text transform="translate(26.5,602.1) rotate(-90)" text-anchor="middle" font-size="25">Concentration   (Bq m<tspan font-size="13" dy="-9">-3</tspan><tspan dy="9">)</tspan></text>
<text x="416.3" y="479.6" font-size="25">Box no. 29</text>
<text x="6.7" y="435.3" font-size="32.3" font-weight="bold">D</text>
<path d="M98.8,616 L99.31,614.07 L99.82,612.13 L100.33,610.2 L100.84,608.26 L101.35,606.33 L101.87,604.4 L102.41,602.47 L102.95,600.54 L103.49,598.61 L104.03,596.69 L104.5,594.75 L104.78,592.77 L105.03,590.78 L105.29,588.8 L105.74,586.89 L106.73,585.17 L107.81,583.48 L108.88,581.8 L109.96,580.11 L111.04,578.42 L112.05,576.71 L112.72,574.84 L113.3,572.92 L113.87,571.01 L114.44,569.09 L115.01,567.17 L115.59,565.25 L116.16,563.34 L116.73,561.42 L117.3,559.5 L117.89,557.59 L118.57,555.71 L119.27,553.84 L119.98,551.96 L120.68,550.09 L121.38,548.22 L122.08,546.34 L122.79,544.47 L123.51,542.61 L124.39,540.81 L125.33,539.05 L126.27,537.28 L127.21,535.51 L128.15,533.75 L129.08,531.98 L130.02,530.21 L131,528.48 L132.33,527.02 L133.84,525.71 L135.35,524.39 L136.86,523.08 L138.38,521.78 L140.02,520.66 L141.75,519.66 L143.49,518.66 L145.21,517.65 L146.89,516.56 L148.55,515.45 L150.21,514.33 L151.78,513.1 L153.2,511.7 L154.62,510.28 L156.12,509.14 L158.01,509.29 L159.97,509.67 L161.94,510.04 L163.93,510.2 L165.93,510.2 L167.87,510.08 L169.38,509.02 L170.67,507.49 L171.95,505.96 L173.23,504.43 L174.52,502.9 L175.85,501.4 L177.21,499.93 L178.57,498.47 L179.94,497 L181.32,495.58 L183.02,494.66 L184.94,494.1 L186.86,493.55 L188.79,493.29 L190.73,493.68 L192.67,494.17 L194.61,494.65 L196.55,495.14 L198.48,495.67 L200.38,496.29 L202.28,496.93 L204.18,497.56 L206.07,498.19 L207.97,498.82 L209.9,499.34 L211.87,499.64 L213.85,499.92 L215.83,500.2 L217.82,500.47 L219.8,500.74 L221.79,500.84 L223.78,500.75 L225.78,500.64 L227.78,500.54 L229.78,500.43 L231.77,500.31 L233.75,500.01 L235.71,499.61 L237.67,499.22 L239.63,498.82 L241.59,498.43 L243.56,498.06 L245.54,497.84 L247.54,497.68 L249.53,497.51 L251.52,497.32 L253.48,496.94 L255.43,496.46 L257.37,495.99 L259.31,495.52 L261.26,495.04 L263.2,494.56 L265.04,493.83 L266.76,492.82 L268.47,491.78 L270.18,490.74 L271.89,489.71 L273.6,488.67 L275.32,487.64 L277.06,486.69 L278.98,486.27 L280.97,486 L282.95,485.74 L284.93,485.48 L286.92,485.22 L288.91,484.99 L290.9,484.83 L292.89,484.68 L294.89,484.53 L296.88,484.38 L298.88,484.23 L300.87,484.08 L302.87,483.93 L304.86,483.78 L306.85,483.59 L308.81,483.19 L310.75,482.71 L312.69,482.22 L314.63,481.73 L316.57,481.24 L318.51,480.76 L320.45,480.27 L322.39,479.78 L324.19,479.1 L325.3,477.53 L326.28,475.78 L327.26,474.07 L328.39,473.56 L329.74,474.86 L331.11,476.32 L332.48,477.78 L333.85,479.24 L335.22,480.7 L336.59,482.16 L337.96,483.61 L339.5,484.86 L341.2,485.93 L342.89,486.99 L344.59,488.05 L346.28,489.11 L347.98,490.17 L349.69,491.22 L351.47,492.11 L353.3,492.93 L355.12,493.75 L356.95,494.56 L358.77,495.38 L360.6,496.2 L362.43,497.02 L364.26,497.83 L366.11,498.58 L367.97,499.32 L369.83,500.06 L371.68,500.8 L373.54,501.54 L375.4,502.29 L377.26,503.02 L379.14,503.69 L381.08,504.2 L383.02,504.69 L384.96,505.18 L386.9,505.66 L388.84,506.15 L390.78,506.64 L392.72,507.12 L394.68,507.54 L396.64,507.93 L398.6,508.32 L400.56,508.71 L402.52,509.1 L404.48,509.5 L406.43,509.95 L408.38,510.43 L410.32,510.91 L412.26,511.38 L414.21,511.86 L416.15,512.34 L418.09,512.82 L420.03,513.29 L421.98,513.77 L423.92,514.25 L425.86,514.73 L427.81,515.2 L429.76,515.63 L431.72,516.02 L433.68,516.41 L435.65,516.8 L437.61,517.2 L439.57,517.59 L441.53,517.98 L443.5,518.37 L445.46,518.76 L447.42,519.15 L449.38,519.54 L451.34,519.93 L453.31,520.32 L455.27,520.71 L457.23,521.1 L459.2,521.45 L461.17,521.79 L463.14,522.14 L465.11,522.48 L467.08,522.83 L469.06,523.17 L471.03,523.52 L473,523.86 L474.97,524.21 L476.94,524.55 L478.91,524.9 L480.88,525.24 L482.85,525.58 L484.82,525.93 L486.8,526.22 L488.79,526.47 L490.77,526.71 L492.76,526.95 L494.74,527.19 L496.73,527.44 L498.72,527.68 L500.7,527.92 L502.69,528.17 L504.67,528.41 L506.66,528.65 L508.65,528.9 L510.63,529.14 L512.62,529.38 L514.6,529.62 L516.59,529.86 L518.58,530.1 L520.56,530.34 L522.55,530.58 L524.54,530.82 L526.52,531.05 L528.51,531.29 L530.49,531.53 L532.48,531.77 L534.47,532.01 L536.45,532.25 L538.44,532.48 L540.43,532.72 L542.41,532.96 L544.4,533.2" stroke="#000000" stroke-width="1.9" fill="none" stroke-linejoin="round"/>
<circle cx="282.9" cy="487.2" r="5.3" fill="#0a14f0"/>
<circle cx="295.8" cy="484.3" r="5.3" fill="#0a14f0"/>
<circle cx="239" cy="511.7" r="5.3" fill="#050505"/>
<circle cx="283.2" cy="472.9" r="5.3" fill="#050505"/>
<circle cx="296" cy="475.3" r="5.3" fill="#050505"/>
<circle cx="289.3" cy="490.7" r="5.3" fill="#050505"/>
<circle cx="302.9" cy="483.6" r="5.3" fill="#050505"/>
<circle cx="315.1" cy="478.6" r="5.3" fill="#050505"/>
<circle cx="321.5" cy="484.3" r="5.3" fill="#050505"/>
<circle cx="334.4" cy="478.6" r="5.3" fill="#050505"/>
<circle cx="385.5" cy="517.6" r="5.3" fill="#050505"/>
<circle cx="416.9" cy="519.3" r="5.3" fill="#050505"/>
<circle cx="461.5" cy="524.8" r="5.3" fill="#050505"/>
<circle cx="474.3" cy="524.3" r="5.3" fill="#050505"/>
<circle cx="480" cy="526" r="5.3" fill="#050505"/>
<circle cx="487.2" cy="521.5" r="5.3" fill="#050505"/>
<circle cx="494.4" cy="525.8" r="5.3" fill="#050505"/>
<circle cx="498.7" cy="532.9" r="5.3" fill="#050505"/>
<circle cx="506.5" cy="524.3" r="5.3" fill="#050505"/>
<circle cx="513" cy="530" r="5.3" fill="#050505"/>
<circle cx="296" cy="497.2" r="5.3" fill="#f01414"/>
<circle cx="302.9" cy="515.3" r="5.3" fill="#f01414"/>
<circle cx="461.5" cy="522.6" r="5.3" fill="#f01414"/>
<path d="M98.8,627.4 L99.91,625.73 L101.02,624.07 L102.13,622.4 L103.24,620.73 L104.34,619.06 L105.42,617.37 L106.46,615.66 L107.45,613.92 L108.41,612.16 L109.35,610.4 L110.28,608.62 L111.19,606.84 L112.07,605.04 L112.9,603.22 L113.71,601.39 L114.49,599.54 L115.27,597.7 L116.04,595.85 L116.81,594 L117.56,592.14 L118.27,590.27 L118.93,588.38 L119.55,586.48 L120.15,584.57 L120.74,582.65 L121.32,580.74 L121.9,578.82 L122.49,576.9 L123.07,574.99 L123.66,573.07 L124.26,571.16 L124.9,569.27 L125.62,567.41 L126.44,565.6 L127.36,563.83 L128.32,562.08 L129.31,560.33 L130.31,558.6 L131.32,556.87 L132.38,555.18 L133.5,553.53 L134.71,551.94 L135.97,550.39 L137.26,548.86 L138.56,547.33 L139.87,545.82 L141.18,544.3 L142.5,542.8 L143.86,541.33 L145.27,539.92 L146.75,538.57 L148.26,537.27 L149.79,535.98 L151.33,534.69 L152.88,533.43 L154.45,532.19 L156.06,531 L157.72,529.89 L159.42,528.84 L161.14,527.81 L162.87,526.81 L164.61,525.81 L166.36,524.86 L168.15,523.95 L169.96,523.1 L171.78,522.27 L173.58,521.41 L175.34,520.48 L177.05,519.45 L178.72,518.35 L180.37,517.22 L182.01,516.08 L183.66,514.93 L185.3,513.79 L186.94,512.64 L188.6,511.52 L190.27,510.44 L192,509.47 L193.8,508.64 L195.66,507.94 L197.56,507.33 L199.48,506.81 L201.42,506.4 L203.39,506.12 L205.37,505.96 L207.37,505.88 L209.37,505.83 L211.37,505.78 L213.38,505.73 L215.38,505.69 L217.38,505.66 L219.39,505.66 L221.39,505.67 L223.39,505.71 L225.39,505.75 L227.4,505.8 L229.4,505.84 L231.4,505.88 L233.4,505.91 L235.41,505.9 L237.41,505.84 L239.41,505.74 L241.4,505.61 L243.4,505.47 L245.4,505.32 L247.39,505.15 L249.38,504.93 L251.36,504.66 L253.34,504.32 L255.31,503.96 L257.27,503.57 L259.24,503.18 L261.19,502.77 L263.13,502.3 L265.05,501.74 L266.94,501.09 L268.81,500.39 L270.67,499.66 L272.54,498.92 L274.4,498.17 L276.26,497.43 L278.11,496.68 L279.97,495.92 L281.82,495.15 L283.67,494.4 L285.54,493.69 L287.43,493.05 L289.35,492.5 L291.29,492.03 L293.25,491.61 L295.21,491.25 L297.18,491.01 L299.17,490.91 L301.16,490.92 L303.16,490.99 L305.16,491.07 L307.16,491.17 L309.16,491.25 L311.16,491.32 L313.16,491.36 L315.16,491.33 L317.16,491.24 L319.16,491.1 L321.15,490.95 L323.15,490.8 L325.15,490.65 L327.15,490.51 L329.14,490.38 L331.13,490.31 L333.11,490.35 L335.06,490.57 L336.99,490.99 L338.9,491.54 L340.8,492.16 L342.7,492.79 L344.6,493.44 L346.49,494.1 L348.37,494.77 L350.25,495.46 L352.13,496.17 L354.01,496.87 L355.88,497.58 L357.75,498.29 L359.63,498.99 L361.51,499.69 L363.39,500.36 L365.29,501 L367.2,501.6 L369.12,502.18 L371.04,502.75 L372.96,503.31 L374.88,503.87 L376.81,504.43 L378.74,504.96 L380.67,505.48 L382.61,505.98 L384.56,506.47 L386.5,506.96 L388.44,507.45 L390.39,507.91 L392.34,508.35 L394.31,508.73 L396.28,509.07 L398.26,509.39 L400.24,509.69 L402.22,510 L404.19,510.34 L406.16,510.72 L408.12,511.13 L410.07,511.56 L412.02,512.01 L413.98,512.45 L415.93,512.9 L417.88,513.35 L419.84,513.79 L421.79,514.24 L423.74,514.69 L425.7,515.13 L427.65,515.56 L429.61,515.98 L431.57,516.39 L433.54,516.78 L435.5,517.18 L437.47,517.57 L439.43,517.96 L441.4,518.35 L443.36,518.74 L445.33,519.13 L447.29,519.52 L449.25,519.92 L451.22,520.31 L453.18,520.7 L455.15,521.08 L457.12,521.46 L459.09,521.82 L461.06,522.17 L463.03,522.52 L465.01,522.86 L466.98,523.21 L468.95,523.55 L470.93,523.9 L472.9,524.24 L474.87,524.59 L476.85,524.93 L478.82,525.28 L480.8,525.62 L482.77,525.96 L484.75,526.28 L486.73,526.57 L488.71,526.84 L490.7,527.1 L492.69,527.34 L494.68,527.59 L496.67,527.83 L498.65,528.07 L500.64,528.32 L502.63,528.56 L504.62,528.8 L506.61,529.05 L508.6,529.29 L510.59,529.53 L512.57,529.78 L514.56,530.02 L516.55,530.26 L518.54,530.5 L520.53,530.74 L522.52,530.97 L524.51,531.21 L526.5,531.45 L528.49,531.69 L530.48,531.93 L532.47,532.17 L534.45,532.41 L536.44,532.65 L538.43,532.88 L540.42,533.12 L542.41,533.36 L544.4,533.6" stroke="#1a16c0" stroke-width="2.1" fill="none" stroke-linejoin="round"/>
<path d="M98.8,668.4 L100.22,666.98 L101.63,665.57 L103.04,664.15 L104.43,662.71 L105.78,661.23 L107.07,659.71 L108.31,658.14 L109.51,656.54 L110.7,654.93 L111.86,653.31 L112.99,651.66 L114.06,649.97 L115.05,648.24 L115.98,646.47 L116.89,644.68 L117.78,642.89 L118.67,641.1 L119.56,639.3 L120.44,637.51 L121.31,635.7 L122.16,633.89 L122.99,632.07 L123.81,630.24 L124.63,628.41 L125.44,626.58 L126.25,624.75 L127.06,622.92 L127.87,621.09 L128.66,619.25 L129.42,617.4 L130.16,615.54 L130.87,613.67 L131.57,611.79 L132.28,609.92 L133,608.05 L133.77,606.21 L134.6,604.4 L135.51,602.62 L136.47,600.86 L137.45,599.12 L138.44,597.38 L139.43,595.64 L140.43,593.9 L141.45,592.18 L142.5,590.48 L143.61,588.82 L144.77,587.19 L145.95,585.57 L147.15,583.97 L148.35,582.37 L149.55,580.76 L150.76,579.16 L151.97,577.57 L153.2,576 L154.48,574.46 L155.79,572.95 L157.14,571.47 L158.5,570 L159.87,568.54 L161.24,567.08 L162.61,565.62 L163.98,564.16 L165.37,562.72 L166.79,561.31 L168.25,559.96 L169.77,558.66 L171.32,557.39 L172.89,556.15 L174.46,554.91 L176.03,553.67 L177.61,552.43 L179.19,551.21 L180.79,550 L182.41,548.83 L184.05,547.68 L185.7,546.54 L187.35,545.41 L189,544.27 L190.65,543.14 L192.31,542.02 L193.97,540.91 L195.67,539.85 L197.4,538.85 L199.16,537.9 L200.94,536.99 L202.73,536.09 L204.52,535.19 L206.31,534.3 L208.11,533.42 L209.91,532.56 L211.74,531.74 L213.58,530.97 L215.45,530.24 L217.32,529.52 L219.19,528.81 L221.06,528.1 L222.94,527.4 L224.82,526.73 L226.72,526.11 L228.64,525.54 L230.57,525.02 L232.51,524.53 L234.45,524.04 L236.39,523.56 L238.34,523.08 L240.29,522.64 L242.25,522.23 L244.22,521.88 L246.19,521.56 L248.17,521.27 L250.16,520.99 L252.14,520.72 L254.13,520.47 L256.12,520.24 L258.11,520.01 L260.09,519.78 L262.08,519.54 L264.07,519.29 L266.05,519.03 L268.04,518.75 L270.02,518.46 L272,518.17 L273.98,517.88 L275.96,517.59 L277.94,517.29 L279.92,516.99 L281.9,516.69 L283.88,516.39 L285.86,516.08 L287.84,515.78 L289.82,515.48 L291.8,515.19 L293.79,514.92 L295.77,514.67 L297.76,514.42 L299.75,514.19 L301.74,513.95 L303.73,513.73 L305.72,513.52 L307.71,513.34 L309.71,513.2 L311.71,513.09 L313.7,512.98 L315.7,512.89 L317.71,512.79 L319.71,512.71 L321.71,512.65 L323.71,512.62 L325.71,512.61 L327.71,512.6 L329.72,512.6 L331.72,512.6 L333.72,512.62 L335.72,512.65 L337.72,512.7 L339.72,512.77 L341.72,512.85 L343.73,512.93 L345.73,513.02 L347.72,513.13 L349.72,513.26 L351.72,513.42 L353.71,513.62 L355.7,513.83 L357.69,514.05 L359.68,514.27 L361.67,514.5 L363.66,514.74 L365.64,514.99 L367.63,515.26 L369.61,515.53 L371.6,515.81 L373.58,516.08 L375.56,516.36 L377.54,516.64 L379.53,516.91 L381.51,517.19 L383.49,517.47 L385.48,517.74 L387.46,518.02 L389.45,518.29 L391.43,518.57 L393.41,518.84 L395.4,519.11 L397.38,519.38 L399.36,519.65 L401.35,519.92 L403.33,520.19 L405.32,520.46 L407.3,520.73 L409.29,520.99 L411.27,521.26 L413.26,521.53 L415.24,521.8 L417.22,522.06 L419.21,522.33 L421.19,522.6 L423.18,522.87 L425.16,523.13 L427.15,523.4 L429.13,523.66 L431.12,523.91 L433.11,524.17 L435.09,524.42 L437.08,524.67 L439.07,524.92 L441.05,525.17 L443.04,525.42 L445.03,525.67 L447.01,525.92 L449,526.17 L450.99,526.42 L452.97,526.67 L454.96,526.92 L456.95,527.17 L458.93,527.42 L460.92,527.67 L462.91,527.92 L464.89,528.17 L466.88,528.42 L468.87,528.67 L470.86,528.92 L472.84,529.17 L474.83,529.42 L476.82,529.67 L478.8,529.92 L480.79,530.17 L482.78,530.42 L484.76,530.67 L486.75,530.91 L488.74,531.16 L490.73,531.4 L492.71,531.65 L494.7,531.89 L496.69,532.13 L498.68,532.38 L500.66,532.62 L502.65,532.86 L504.64,533.11 L506.63,533.35 L508.61,533.59 L510.6,533.83 L512.59,534.08 L514.58,534.32 L516.57,534.56 L518.55,534.8 L520.54,535.04 L522.53,535.28 L524.52,535.51 L526.51,535.75 L528.49,535.99 L530.48,536.23 L532.47,536.47 L534.46,536.71 L536.45,536.95 L538.44,537.18 L540.42,537.42 L542.41,537.66 L544.4,537.9" stroke="#d8202a" stroke-width="2.0" fill="none" stroke-linejoin="round"/>
<circle cx="239" cy="537.9" r="4.3" fill="#14f014"/>
<circle cx="296" cy="529.3" r="4.3" fill="#14f014"/>
<circle cx="461.5" cy="535.1" r="4.3" fill="#14f014"/>
<circle cx="486.9" cy="532.9" r="4.3" fill="#14f014"/>
<circle cx="506.5" cy="537.2" r="4.3" fill="#14f014"/>
<circle cx="518.7" cy="530.8" r="4.3" fill="#14f014"/>
<circle cx="500.1" cy="548.6" r="4.3" fill="#14f014"/>
<circle cx="512.2" cy="549.4" r="4.3" fill="#14f014"/>
<path d="M98.8,726.6 L100.08,725.06 L101.35,723.51 L102.63,721.97 L103.9,720.42 L105.18,718.88 L106.46,717.34 L107.74,715.8 L109.03,714.27 L110.34,712.75 L111.64,711.24 L112.95,709.72 L114.26,708.2 L115.57,706.69 L116.86,705.16 L118.12,703.61 L119.3,702.01 L120.37,700.33 L121.34,698.6 L122.26,696.82 L123.16,695.04 L124.06,693.24 L124.95,691.45 L125.84,689.66 L126.73,687.86 L127.62,686.07 L128.5,684.27 L129.36,682.46 L130.21,680.65 L131.04,678.83 L131.86,677 L132.69,675.18 L133.51,673.35 L134.33,671.52 L135.16,669.7 L135.99,667.88 L136.83,666.06 L137.69,664.26 L138.57,662.46 L139.46,660.66 L140.35,658.87 L141.24,657.07 L142.13,655.28 L143.03,653.49 L143.92,651.69 L144.82,649.91 L145.73,648.13 L146.68,646.36 L147.66,644.62 L148.67,642.89 L149.69,641.16 L150.71,639.44 L151.74,637.72 L152.76,636 L153.79,634.28 L154.82,632.57 L155.86,630.85 L156.92,629.16 L158.02,627.49 L159.18,625.86 L160.38,624.26 L161.6,622.68 L162.84,621.1 L164.07,619.52 L165.31,617.95 L166.54,616.37 L167.78,614.8 L169.03,613.24 L170.31,611.7 L171.64,610.21 L173.03,608.78 L174.47,607.39 L175.93,606.02 L177.4,604.66 L178.87,603.3 L180.34,601.94 L181.81,600.59 L183.28,599.23 L184.76,597.87 L186.23,596.51 L187.7,595.15 L189.16,593.79 L190.63,592.42 L192.1,591.06 L193.57,589.7 L195.03,588.33 L196.5,586.97 L197.96,585.6 L199.43,584.24 L200.9,582.88 L202.37,581.53 L203.87,580.2 L205.41,578.94 L207.02,577.75 L208.67,576.63 L210.35,575.56 L212.05,574.49 L213.75,573.44 L215.46,572.38 L217.16,571.33 L218.87,570.3 L220.6,569.29 L222.35,568.32 L224.12,567.38 L225.9,566.47 L227.69,565.56 L229.47,564.66 L231.26,563.76 L233.06,562.88 L234.87,562.04 L236.72,561.28 L238.6,560.61 L240.5,559.99 L242.41,559.4 L244.33,558.82 L246.24,558.24 L248.16,557.67 L250.09,557.11 L252.02,556.58 L253.96,556.09 L255.9,555.62 L257.85,555.17 L259.8,554.72 L261.75,554.26 L263.7,553.77 L265.63,553.26 L267.55,552.71 L269.47,552.14 L271.39,551.57 L273.31,550.99 L275.23,550.43 L277.16,549.88 L279.09,549.36 L281.03,548.88 L282.98,548.43 L284.94,547.98 L286.89,547.55 L288.85,547.11 L290.8,546.69 L292.76,546.28 L294.73,545.89 L296.69,545.52 L298.66,545.15 L300.63,544.79 L302.6,544.44 L304.58,544.09 L306.55,543.75 L308.53,543.43 L310.5,543.12 L312.49,542.83 L314.47,542.53 L316.45,542.24 L318.43,541.96 L320.41,541.69 L322.4,541.45 L324.39,541.23 L326.38,541.02 L328.38,540.83 L330.37,540.63 L332.36,540.44 L334.36,540.26 L336.35,540.09 L338.35,539.93 L340.35,539.78 L342.34,539.64 L344.34,539.5 L346.34,539.37 L348.34,539.23 L350.34,539.11 L352.34,539 L354.34,538.89 L356.34,538.8 L358.34,538.7 L360.34,538.6 L362.34,538.51 L364.34,538.42 L366.34,538.34 L368.34,538.26 L370.34,538.19 L372.34,538.12 L374.34,538.06 L376.35,538 L378.35,537.95 L380.35,537.92 L382.35,537.91 L384.35,537.9 L386.36,537.9 L388.36,537.9 L390.36,537.91 L392.36,537.92 L394.37,537.93 L396.37,537.96 L398.37,537.99 L400.37,538.02 L402.38,538.06 L404.38,538.11 L406.38,538.16 L408.38,538.22 L410.38,538.28 L412.39,538.35 L414.39,538.42 L416.39,538.49 L418.39,538.55 L420.39,538.62 L422.39,538.69 L424.39,538.76 L426.4,538.82 L428.4,538.89 L430.4,538.96 L432.4,539.02 L434.4,539.08 L436.4,539.15 L438.41,539.21 L440.41,539.27 L442.41,539.33 L444.41,539.4 L446.41,539.46 L448.41,539.52 L450.41,539.59 L452.42,539.65 L454.42,539.72 L456.42,539.79 L458.42,539.87 L460.42,539.95 L462.42,540.04 L464.42,540.13 L466.42,540.22 L468.42,540.31 L470.42,540.4 L472.42,540.49 L474.43,540.58 L476.43,540.67 L478.43,540.76 L480.43,540.86 L482.43,540.95 L484.43,541.04 L486.43,541.14 L488.43,541.24 L490.43,541.34 L492.43,541.45 L494.43,541.55 L496.43,541.66 L498.43,541.76 L500.43,541.87 L502.43,541.97 L504.43,542.08 L506.43,542.18 L508.43,542.29 L510.43,542.39 L512.43,542.5 L514.43,542.62 L516.42,542.74 L518.42,542.87 L520.42,543 L522.42,543.13 L524.42,543.27 L526.42,543.4 L528.41,543.53 L530.41,543.67 L532.41,543.8 L534.41,543.93 L536.41,544.07 L538.41,544.2 L540.4,544.33 L542.4,544.47 L544.4,544.6" stroke="#1ee11e" stroke-width="2.0" fill="none" stroke-linejoin="round"/>
<path d="M693.4,458.6 V770.3 M678.4,755.3 H1138.7 M685.8,742.54 H693.4 M685.8,735.08 H693.4 M685.8,729.78 H693.4 M685.8,725.67 H693.4 M685.8,722.32 H693.4 M685.8,719.48 H693.4 M685.8,717.02 H693.4 M685.8,714.85 H693.4 M678.4,712.91 H693.4 M685.8,700.15 H693.4 M685.8,692.69 H693.4 M685.8,687.4 H693.4 M685.8,683.29 H693.4 M685.8,679.93 H693.4 M685.8,677.09 H693.4 M685.8,674.64 H693.4 M685.8,672.47 H693.4 M678.4,670.53 H693.4 M685.8,657.77 H693.4 M685.8,650.31 H693.4 M685.8,645.01 H693.4 M685.8,640.9 H693.4 M685.8,637.55 H693.4 M685.8,634.71 H693.4 M685.8,632.25 H693.4 M685.8,630.08 H693.4 M678.4,628.14 H693.4 M685.8,615.38 H693.4 M685.8,607.92 H693.4 M685.8,602.62 H693.4 M685.8,598.52 H693.4 M685.8,595.16 H693.4 M685.8,592.32 H693.4 M685.8,589.86 H693.4 M685.8,587.7 H693.4 M678.4,585.76 H693.4 M685.8,573 H693.4 M685.8,565.53 H693.4 M685.8,560.24 H693.4 M685.8,556.13 H693.4 M685.8,552.77 H693.4 M685.8,549.94 H693.4 M685.8,547.48 H693.4 M685.8,545.31 H693.4 M678.4,543.37 H693.4 M685.8,530.61 H693.4 M685.8,523.15 H693.4 M685.8,517.85 H693.4 M685.8,513.75 H693.4 M685.8,510.39 H693.4 M685.8,507.55 H693.4 M685.8,505.09 H693.4 M685.8,502.93 H693.4 M678.4,500.99 H693.4 M685.8,488.23 H693.4 M685.8,480.76 H693.4 M685.8,475.47 H693.4 M685.8,471.36 H693.4 M685.8,468 H693.4 M685.8,465.17 H693.4 M685.8,462.71 H693.4 M685.8,460.54 H693.4 M678.4,458.6 H693.4 M725.21,755.3 V762.9 M757.01,755.3 V770.3 M788.82,755.3 V762.9 M820.63,755.3 V770.3 M852.44,755.3 V762.9 M884.24,755.3 V770.3 M916.05,755.3 V762.9 M947.86,755.3 V770.3 M979.66,755.3 V762.9 M1011.47,755.3 V770.3 M1043.28,755.3 V762.9 M1075.09,755.3 V770.3 M1106.89,755.3 V762.9 M1138.7,755.3 V770.3" stroke="#000" stroke-width="1.9" fill="none"/>
<text x="670.2" y="765.3" text-anchor="end" font-size="24.4">10<tspan font-size="14" dy="-11.6">-5</tspan></text>
<text x="670.2" y="722.91" text-anchor="end" font-size="24.4">10<tspan font-size="14" dy="-11.6">-4</tspan></text>
<text x="670.2" y="680.53" text-anchor="end" font-size="24.4">10<tspan font-size="14" dy="-11.6">-3</tspan></text>
<text x="670.2" y="638.14" text-anchor="end" font-size="24.4">10<tspan font-size="14" dy="-11.6">-2</tspan></text>
<text x="670.2" y="595.76" text-anchor="end" font-size="24.4">10<tspan font-size="14" dy="-11.6">-1</tspan></text>
<text x="670.2" y="553.37" text-anchor="end" font-size="24.4">10<tspan font-size="14" dy="-11.6">0</tspan></text>
<text x="670.2" y="510.99" text-anchor="end" font-size="24.4">10<tspan font-size="14" dy="-11.6">1</tspan></text>
<text x="670.2" y="468.6" text-anchor="end" font-size="24.4">10<tspan font-size="14" dy="-11.6">2</tspan></text>
<text x="693.4" y="799.9" text-anchor="middle" font-size="24.3">1950</text>
<text x="757.01" y="799.9" text-anchor="middle" font-size="24.3">1960</text>
<text x="820.63" y="799.9" text-anchor="middle" font-size="24.3">1970</text>
<text x="884.24" y="799.9" text-anchor="middle" font-size="24.3">1980</text>
<text x="947.86" y="799.9" text-anchor="middle" font-size="24.3">1990</text>
<text x="1011.47" y="799.9" text-anchor="middle" font-size="24.3">2000</text>
<text x="1075.09" y="799.9" text-anchor="middle" font-size="24.3">2010</text>
<text x="1138.7" y="799.9" text-anchor="middle" font-size="24.3">2020</text>
<text x="916.05" y="827.6" text-anchor="middle" font-size="25" xml:space="preserve">Time  (y)</text>
<text transform="translate(620.9,606.95) rotate(-90)" text-anchor="middle" font-size="25">Concentration  (Bq m<tspan font-size="13" dy="-9">-2</tspan><tspan dy="9">)</tspan></text>
<text x="1023.5" y="487.2" font-size="25">Box no. 28</text>
<text x="597.8" y="435.3" font-size="32.3" font-weight="bold">E</text>
<path d="M693.7,626.7 L694.09,624.74 L694.48,622.77 L694.86,620.81 L695.25,618.85 L695.64,616.88 L696.03,614.92 L696.41,612.96 L696.83,611 L697.39,609.08 L697.97,607.16 L698.55,605.25 L699.14,603.34 L699.73,601.43 L700.62,599.66 L701.79,598.04 L702.96,596.42 L704.14,594.8 L705.31,593.18 L706.27,591.45 L706.9,589.56 L707.5,587.65 L708.1,585.74 L708.7,583.83 L709.31,581.92 L709.91,580.01 L710.51,578.1 L711.11,576.2 L711.72,574.29 L712.36,572.4 L713.03,570.51 L713.69,568.62 L714.35,566.73 L715.01,564.84 L715.68,562.95 L716.34,561.06 L717,559.18 L717.66,557.29 L718.34,555.41 L719.16,553.58 L720.05,551.79 L720.95,550 L721.84,548.21 L722.74,546.42 L723.63,544.63 L724.53,542.85 L725.65,541.24 L727.2,540 L728.8,538.8 L730.4,537.6 L732.01,536.4 L733.68,535.31 L735.42,534.32 L737.16,533.33 L738.89,532.33 L740.5,531.15 L742.03,529.87 L743.56,528.58 L745.09,527.28 L746.59,525.96 L748.09,524.64 L749.59,523.32 L751.29,522.68 L753.26,522.91 L755.24,523.2 L757.22,523.32 L759.21,523.17 L761.21,522.99 L763.12,522.65 L764.61,521.43 L766,519.98 L767.38,518.54 L768.76,517.09 L770.11,515.61 L771.32,514.02 L772.52,512.42 L773.71,510.81 L774.91,509.2 L776.2,507.74 L778.02,507.02 L779.93,506.44 L781.85,505.93 L783.81,505.95 L785.78,506.29 L787.75,506.63 L789.72,506.98 L791.68,507.38 L793.62,507.87 L795.56,508.36 L797.5,508.85 L799.44,509.35 L801.38,509.84 L803.35,510.12 L805.35,510.2 L807.35,510.26 L809.35,510.33 L811.35,510.39 L813.35,510.46 L815.35,510.52 L817.35,510.58 L819.35,510.55 L821.35,510.48 L823.35,510.41 L825.35,510.35 L827.35,510.28 L829.35,510.22 L831.35,510.15 L833.35,510.09 L835.35,510.06 L837.35,510.02 L839.35,509.98 L841.36,509.95 L843.36,509.9 L845.35,509.72 L847.33,509.47 L849.32,509.21 L851.3,508.95 L853.29,508.7 L855.27,508.44 L857.25,508.16 L859.17,507.63 L861.04,506.94 L862.92,506.24 L864.8,505.54 L866.67,504.85 L868.55,504.15 L870.43,503.46 L872.31,502.78 L874.22,502.2 L876.14,501.63 L878.06,501.06 L879.98,500.49 L881.9,499.92 L883.82,499.35 L885.77,498.94 L887.75,498.72 L889.75,498.53 L891.74,498.33 L893.73,498.13 L895.72,497.93 L897.71,497.73 L899.7,497.56 L901.7,497.62 L903.69,497.75 L905.69,497.88 L907.69,498.02 L909.69,498.15 L911.68,498.29 L913.68,498.42 L915.63,498.46 L917.13,497.5 L918.35,495.92 L919.57,494.33 L920.79,492.74 L922.07,491.37 L923.8,491.43 L925.7,492.04 L927.61,492.65 L929.51,493.27 L931.41,493.89 L933.3,494.55 L935.14,495.34 L936.97,496.15 L938.8,496.96 L940.63,497.77 L942.47,498.57 L944.34,499.27 L946.22,499.96 L948.1,500.64 L949.98,501.33 L951.86,502.02 L953.74,502.7 L955.62,503.39 L957.5,504.08 L959.39,504.71 L961.33,505.19 L963.28,505.64 L965.24,506.08 L967.19,506.53 L969.14,506.98 L971.09,507.42 L973.04,507.87 L974.99,508.32 L976.94,508.76 L978.89,509.2 L980.85,509.64 L982.8,510.08 L984.75,510.52 L986.7,510.96 L988.66,511.4 L990.61,511.82 L992.57,512.21 L994.54,512.6 L996.5,512.99 L998.46,513.38 L1000.43,513.77 L1002.39,514.16 L1004.35,514.55 L1006.32,514.94 L1008.28,515.33 L1010.24,515.71 L1012.21,516.1 L1014.17,516.49 L1016.13,516.88 L1018.09,517.27 L1020.06,517.66 L1022.02,518.05 L1023.98,518.44 L1025.95,518.83 L1027.91,519.23 L1029.87,519.62 L1031.83,520.02 L1033.79,520.41 L1035.76,520.81 L1037.72,521.2 L1039.68,521.6 L1041.64,521.99 L1043.6,522.39 L1045.57,522.79 L1047.53,523.18 L1049.49,523.58 L1051.45,523.97 L1053.41,524.37 L1055.37,524.76 L1057.34,525.16 L1059.3,525.56 L1061.26,525.94 L1063.23,526.29 L1065.21,526.62 L1067.18,526.95 L1069.15,527.28 L1071.13,527.61 L1073.1,527.94 L1075.07,528.28 L1077.05,528.61 L1079.02,528.94 L1081,529.27 L1082.97,529.6 L1084.94,529.93 L1086.92,530.26 L1088.89,530.59 L1090.87,530.92 L1092.84,531.25 L1094.81,531.58 L1096.79,531.91 L1098.77,532.21 L1100.75,532.49 L1102.73,532.77 L1104.71,533.05 L1106.69,533.33 L1108.67,533.61 L1110.66,533.88 L1112.64,534.16 L1114.62,534.44 L1116.6,534.72 L1118.58,535 L1120.56,535.28 L1122.55,535.56 L1124.53,535.84 L1126.51,536.12 L1128.49,536.4 L1130.47,536.68 L1132.45,536.96 L1134.44,537.24 L1136.42,537.52 L1138.4,537.8" stroke="#000000" stroke-width="1.9" fill="none" stroke-linejoin="round"/>
<circle cx="876.9" cy="503.4" r="4.9" fill="#0a14f0"/>
<circle cx="890.1" cy="498.6" r="4.9" fill="#0a14f0"/>
<circle cx="877.5" cy="495" r="4.9" fill="#050505"/>
<circle cx="890.1" cy="492.6" r="4.9" fill="#050505"/>
<circle cx="897.2" cy="496.8" r="4.9" fill="#050505"/>
<circle cx="903.2" cy="496.8" r="4.9" fill="#050505"/>
<circle cx="910.3" cy="496.8" r="4.9" fill="#050505"/>
<circle cx="915.9" cy="503.4" r="4.9" fill="#050505"/>
<circle cx="928.8" cy="506.4" r="4.9" fill="#050505"/>
<circle cx="979.5" cy="523.4" r="4.9" fill="#050505"/>
<circle cx="1011.5" cy="528.3" r="4.9" fill="#050505"/>
<circle cx="1055.8" cy="530.1" r="4.9" fill="#050505"/>
<circle cx="1068.1" cy="534.2" r="4.9" fill="#050505"/>
<circle cx="1074.6" cy="536" r="4.9" fill="#050505"/>
<circle cx="1087.7" cy="541.4" r="4.9" fill="#050505"/>
<circle cx="1100.3" cy="541.4" r="4.9" fill="#050505"/>
<circle cx="1106.8" cy="535.4" r="4.9" fill="#050505"/>
<circle cx="890.1" cy="506.4" r="4.9" fill="#f01414"/>
<circle cx="897.2" cy="505.2" r="4.9" fill="#f01414"/>
<path d="M693.7,637.2 L694.75,635.49 L695.79,633.78 L696.84,632.08 L697.89,630.37 L698.93,628.66 L699.97,626.94 L700.99,625.22 L702,623.49 L702.99,621.75 L703.97,620.01 L704.95,618.26 L705.92,616.51 L706.89,614.75 L707.82,612.98 L708.69,611.19 L709.49,609.35 L710.21,607.49 L710.9,605.61 L711.57,603.73 L712.24,601.84 L712.91,599.95 L713.59,598.06 L714.27,596.18 L714.98,594.31 L715.7,592.44 L716.43,590.57 L717.18,588.71 L717.92,586.85 L718.66,584.99 L719.41,583.13 L720.16,581.27 L720.91,579.42 L721.7,577.58 L722.55,575.77 L723.46,573.99 L724.42,572.24 L725.41,570.5 L726.41,568.76 L727.41,567.03 L728.43,565.31 L729.5,563.62 L730.65,561.99 L731.87,560.41 L733.14,558.86 L734.43,557.33 L735.73,555.81 L737.04,554.29 L738.35,552.78 L739.67,551.27 L741.02,549.8 L742.42,548.37 L743.85,546.97 L745.31,545.6 L746.78,544.24 L748.26,542.89 L749.74,541.55 L751.26,540.24 L752.82,539.01 L754.45,537.86 L756.14,536.79 L757.85,535.76 L759.58,534.75 L761.32,533.75 L763.06,532.77 L764.82,531.81 L766.59,530.87 L768.37,529.95 L770.13,529.01 L771.86,528.01 L773.56,526.95 L775.22,525.84 L776.86,524.7 L778.51,523.57 L780.18,522.47 L781.89,521.42 L783.63,520.44 L785.4,519.52 L787.2,518.64 L789.01,517.81 L790.86,517.09 L792.76,516.5 L794.69,516.03 L796.65,515.62 L798.62,515.25 L800.59,514.93 L802.57,514.67 L804.56,514.5 L806.56,514.39 L808.56,514.31 L810.56,514.24 L812.56,514.18 L814.57,514.12 L816.57,514.06 L818.57,513.99 L820.57,513.93 L822.58,513.87 L824.58,513.81 L826.58,513.75 L828.58,513.69 L830.59,513.63 L832.59,513.58 L834.59,513.52 L836.59,513.45 L838.59,513.38 L840.59,513.27 L842.59,513.12 L844.58,512.91 L846.56,512.66 L848.55,512.39 L850.53,512.12 L852.52,511.84 L854.5,511.55 L856.47,511.22 L858.43,510.83 L860.38,510.38 L862.32,509.89 L864.26,509.38 L866.19,508.85 L868.12,508.33 L870.05,507.79 L871.97,507.23 L873.88,506.63 L875.78,505.99 L877.66,505.31 L879.55,504.62 L881.42,503.93 L883.31,503.25 L885.2,502.62 L887.11,502.1 L889.06,501.72 L891.03,501.47 L893.02,501.32 L895.02,501.19 L897.02,501.08 L899.02,500.96 L901.02,500.84 L903.02,500.72 L905.02,500.59 L907.02,500.45 L909.01,500.31 L911.01,500.17 L913.01,500.03 L915.01,499.88 L917.01,499.72 L919,499.55 L921,499.37 L922.99,499.19 L924.99,499.02 L926.98,498.9 L928.97,498.86 L930.96,498.92 L932.95,499.08 L934.94,499.31 L936.93,499.55 L938.91,499.81 L940.89,500.1 L942.86,500.44 L944.81,500.87 L946.74,501.38 L948.66,501.95 L950.58,502.53 L952.49,503.12 L954.41,503.71 L956.32,504.29 L958.25,504.85 L960.18,505.37 L962.12,505.85 L964.07,506.31 L966.02,506.76 L967.98,507.21 L969.93,507.66 L971.88,508.1 L973.83,508.55 L975.79,509 L977.74,509.44 L979.69,509.88 L981.65,510.32 L983.6,510.76 L985.56,511.2 L987.51,511.63 L989.47,512.06 L991.43,512.47 L993.4,512.87 L995.36,513.26 L997.32,513.65 L999.29,514.04 L1001.25,514.43 L1003.22,514.82 L1005.18,515.21 L1007.15,515.6 L1009.12,515.99 L1011.08,516.38 L1013.05,516.77 L1015.01,517.16 L1016.98,517.55 L1018.94,517.94 L1020.91,518.33 L1022.87,518.72 L1024.84,519.11 L1026.8,519.5 L1028.76,519.9 L1030.73,520.29 L1032.69,520.69 L1034.66,521.09 L1036.62,521.48 L1038.58,521.88 L1040.55,522.27 L1042.51,522.67 L1044.47,523.07 L1046.44,523.46 L1048.4,523.86 L1050.37,524.25 L1052.33,524.65 L1054.29,525.05 L1056.26,525.44 L1058.22,525.83 L1060.19,526.21 L1062.16,526.58 L1064.13,526.92 L1066.11,527.26 L1068.08,527.58 L1070.06,527.91 L1072.04,528.24 L1074.01,528.56 L1075.99,528.89 L1077.97,529.21 L1079.94,529.54 L1081.92,529.87 L1083.9,530.19 L1085.87,530.52 L1087.85,530.84 L1089.83,531.17 L1091.8,531.49 L1093.78,531.82 L1095.76,532.13 L1097.74,532.44 L1099.72,532.73 L1101.7,533.02 L1103.69,533.3 L1105.67,533.58 L1107.65,533.86 L1109.64,534.14 L1111.62,534.42 L1113.6,534.7 L1115.59,534.98 L1117.57,535.26 L1119.55,535.54 L1121.54,535.82 L1123.52,536.1 L1125.51,536.38 L1127.49,536.66 L1129.47,536.94 L1131.46,537.22 L1133.44,537.5 L1135.42,537.78 L1137.41,538.06 L1138.4,538.2" stroke="#1a16c0" stroke-width="2.1" fill="none" stroke-linejoin="round"/>
<path d="M693.7,677.2 L695.21,675.89 L696.72,674.58 L698.22,673.25 L699.69,671.9 L701.11,670.49 L702.46,669.03 L703.75,667.51 L705.02,665.96 L706.26,664.39 L707.48,662.81 L708.64,661.19 L709.75,659.52 L710.79,657.82 L711.8,656.09 L712.8,654.36 L713.79,652.62 L714.77,650.87 L715.73,649.12 L716.64,647.34 L717.51,645.54 L718.35,643.72 L719.16,641.9 L719.97,640.07 L720.78,638.24 L721.59,636.4 L722.4,634.57 L723.21,632.74 L724.02,630.91 L724.83,629.08 L725.63,627.25 L726.44,625.42 L727.25,623.59 L728.06,621.75 L728.86,619.92 L729.68,618.1 L730.51,616.27 L731.36,614.46 L732.22,612.66 L733.11,610.86 L734,609.07 L734.89,607.28 L735.78,605.48 L736.67,603.69 L737.58,601.91 L738.51,600.14 L739.47,598.38 L740.47,596.66 L741.54,594.97 L742.66,593.31 L743.83,591.69 L745.02,590.08 L746.22,588.48 L747.42,586.88 L748.62,585.28 L749.82,583.68 L751.05,582.1 L752.3,580.54 L753.61,579.04 L754.97,577.57 L756.37,576.14 L757.78,574.72 L759.19,573.31 L760.61,571.89 L762.03,570.48 L763.45,569.07 L764.89,567.69 L766.37,566.34 L767.88,565.04 L769.43,563.77 L770.99,562.52 L772.56,561.28 L774.13,560.04 L775.71,558.8 L777.29,557.57 L778.88,556.36 L780.49,555.18 L782.12,554.02 L783.77,552.88 L785.41,551.74 L787.06,550.61 L788.72,549.48 L790.37,548.35 L792.03,547.23 L793.71,546.15 L795.42,545.13 L797.17,544.16 L798.95,543.24 L800.73,542.34 L802.52,541.44 L804.31,540.55 L806.11,539.66 L807.91,538.8 L809.73,537.98 L811.58,537.23 L813.46,536.53 L815.34,535.85 L817.23,535.2 L819.12,534.54 L821.02,533.9 L822.92,533.27 L824.83,532.69 L826.76,532.16 L828.7,531.7 L830.65,531.26 L832.61,530.84 L834.56,530.42 L836.52,530 L838.48,529.58 L840.44,529.18 L842.4,528.79 L844.37,528.45 L846.35,528.15 L848.33,527.88 L850.32,527.64 L852.3,527.39 L854.29,527.15 L856.28,526.91 L858.27,526.67 L860.25,526.42 L862.24,526.16 L864.22,525.87 L866.19,525.56 L868.17,525.23 L870.14,524.89 L872.11,524.54 L874.08,524.19 L876.05,523.85 L878.02,523.5 L879.99,523.15 L881.97,522.81 L883.94,522.47 L885.91,522.14 L887.89,521.85 L889.87,521.58 L891.86,521.33 L893.85,521.1 L895.84,520.88 L897.83,520.65 L899.81,520.43 L901.8,520.2 L903.79,519.97 L905.78,519.75 L907.77,519.53 L909.76,519.33 L911.75,519.15 L913.75,519.01 L915.75,518.89 L917.75,518.79 L919.75,518.69 L921.74,518.59 L923.74,518.49 L925.74,518.38 L927.74,518.28 L929.74,518.19 L931.74,518.1 L933.74,518.04 L935.74,518.02 L937.74,518.06 L939.74,518.13 L941.73,518.22 L943.73,518.32 L945.73,518.42 L947.73,518.52 L949.73,518.62 L951.73,518.72 L953.73,518.83 L955.73,518.94 L957.72,519.07 L959.72,519.23 L961.71,519.43 L963.7,519.66 L965.68,519.9 L967.67,520.14 L969.66,520.39 L971.64,520.63 L973.63,520.88 L975.62,521.12 L977.6,521.37 L979.59,521.61 L981.58,521.85 L983.56,522.1 L985.55,522.34 L987.54,522.58 L989.52,522.82 L991.51,523.05 L993.5,523.29 L995.49,523.52 L997.47,523.76 L999.46,523.99 L1001.45,524.22 L1003.44,524.46 L1005.43,524.69 L1007.41,524.93 L1009.4,525.16 L1011.39,525.4 L1013.38,525.63 L1015.36,525.87 L1017.35,526.1 L1019.34,526.34 L1021.33,526.57 L1023.31,526.82 L1025.3,527.07 L1027.28,527.34 L1029.26,527.62 L1031.25,527.91 L1033.23,528.2 L1035.21,528.5 L1037.19,528.79 L1039.17,529.08 L1041.14,529.38 L1043.12,529.67 L1045.1,529.97 L1047.08,530.26 L1049.06,530.55 L1051.04,530.85 L1053.02,531.14 L1055,531.44 L1056.98,531.73 L1058.96,532.02 L1060.95,532.3 L1062.93,532.58 L1064.91,532.85 L1066.89,533.12 L1068.88,533.39 L1070.86,533.66 L1072.85,533.92 L1074.83,534.19 L1076.81,534.45 L1078.8,534.72 L1080.78,534.99 L1082.76,535.25 L1084.75,535.52 L1086.73,535.78 L1088.72,536.05 L1090.7,536.31 L1092.68,536.58 L1094.67,536.84 L1096.65,537.1 L1098.64,537.35 L1100.63,537.59 L1102.61,537.82 L1104.6,538.05 L1106.59,538.29 L1108.58,538.52 L1110.57,538.75 L1112.55,538.98 L1114.54,539.21 L1116.53,539.45 L1118.52,539.68 L1120.51,539.91 L1122.5,540.14 L1124.48,540.37 L1126.47,540.61 L1128.46,540.84 L1130.45,541.07 L1132.44,541.3 L1134.42,541.54 L1136.41,541.77 L1138.4,542" stroke="#d8202a" stroke-width="2.0" fill="none" stroke-linejoin="round"/>
<circle cx="897" cy="528.4" r="4.5" fill="#14f014"/>
<circle cx="890.7" cy="538.5" r="4.5" fill="#14f014"/>
<path d="M693.7,727.8 L694.98,726.26 L696.27,724.73 L697.55,723.19 L698.83,721.65 L700.11,720.11 L701.39,718.57 L702.65,717.02 L703.89,715.45 L705.11,713.86 L706.32,712.27 L707.52,710.67 L708.72,709.07 L709.93,707.47 L711.12,705.86 L712.31,704.25 L713.48,702.63 L714.59,700.97 L715.64,699.27 L716.65,697.54 L717.63,695.8 L718.6,694.05 L719.56,692.29 L720.53,690.54 L721.5,688.79 L722.45,687.03 L723.39,685.26 L724.3,683.48 L725.16,681.68 L726,679.86 L726.82,678.04 L727.64,676.21 L728.46,674.38 L729.28,672.56 L730.1,670.73 L730.94,668.91 L731.81,667.11 L732.72,665.33 L733.66,663.56 L734.62,661.81 L735.59,660.06 L736.56,658.31 L737.53,656.56 L738.51,654.81 L739.48,653.06 L740.47,651.32 L741.47,649.59 L742.5,647.87 L743.54,646.16 L744.59,644.46 L745.65,642.76 L746.7,641.06 L747.76,639.36 L748.83,637.67 L749.93,636 L751.08,634.37 L752.3,632.79 L753.57,631.24 L754.87,629.72 L756.17,628.2 L757.48,626.69 L758.79,625.17 L760.09,623.66 L761.39,622.13 L762.67,620.59 L763.94,619.04 L765.19,617.48 L766.44,615.92 L767.69,614.36 L768.94,612.79 L770.2,611.23 L771.46,609.68 L772.73,608.13 L774.01,606.59 L775.29,605.05 L776.58,603.52 L777.88,602 L779.21,600.51 L780.59,599.06 L782,597.65 L783.43,596.25 L784.88,594.87 L786.33,593.49 L787.78,592.1 L789.22,590.72 L790.68,589.34 L792.14,587.98 L793.62,586.64 L795.15,585.36 L796.73,584.14 L798.35,582.97 L799.99,581.82 L801.63,580.68 L803.28,579.54 L804.93,578.41 L806.58,577.28 L808.25,576.18 L809.95,575.13 L811.69,574.14 L813.45,573.21 L815.24,572.3 L817.03,571.41 L818.82,570.52 L820.62,569.64 L822.42,568.77 L824.25,567.96 L826.1,567.24 L827.99,566.59 L829.9,566.01 L831.82,565.45 L833.75,564.91 L835.67,564.36 L837.6,563.81 L839.53,563.27 L841.45,562.73 L843.38,562.2 L845.32,561.69 L847.26,561.18 L849.2,560.69 L851.14,560.2 L853.08,559.71 L855.02,559.22 L856.96,558.73 L858.9,558.24 L860.84,557.75 L862.78,557.26 L864.72,556.77 L866.66,556.28 L868.61,555.79 L870.55,555.31 L872.49,554.82 L874.43,554.33 L876.37,553.84 L878.31,553.36 L880.26,552.87 L882.2,552.38 L884.14,551.91 L886.09,551.45 L888.04,551.02 L890.01,550.63 L891.97,550.27 L893.95,549.93 L895.92,549.58 L897.89,549.24 L899.86,548.9 L901.84,548.56 L903.81,548.23 L905.78,547.89 L907.76,547.55 L909.73,547.23 L911.71,546.92 L913.69,546.64 L915.67,546.38 L917.66,546.13 L919.65,545.88 L921.63,545.63 L923.62,545.38 L925.61,545.13 L927.59,544.88 L929.58,544.63 L931.56,544.39 L933.55,544.16 L935.54,543.94 L937.53,543.76 L939.53,543.59 L941.53,543.44 L943.52,543.29 L945.52,543.13 L947.51,542.98 L949.51,542.83 L951.51,542.68 L953.5,542.53 L955.5,542.39 L957.5,542.26 L959.49,542.14 L961.49,542.06 L963.49,541.99 L965.49,541.94 L967.5,541.88 L969.5,541.83 L971.5,541.78 L973.5,541.73 L975.5,541.67 L977.5,541.62 L979.5,541.57 L981.5,541.52 L983.5,541.48 L985.51,541.47 L987.51,541.48 L989.51,541.52 L991.51,541.57 L993.51,541.63 L995.51,541.69 L997.51,541.75 L999.51,541.81 L1001.51,541.87 L1003.51,541.93 L1005.51,541.99 L1007.52,542.05 L1009.52,542.11 L1011.52,542.17 L1013.52,542.23 L1015.52,542.29 L1017.52,542.35 L1019.52,542.41 L1021.52,542.47 L1023.52,542.55 L1025.52,542.63 L1027.52,542.74 L1029.52,542.86 L1031.52,542.99 L1033.51,543.12 L1035.51,543.25 L1037.51,543.39 L1039.5,543.52 L1041.5,543.66 L1043.5,543.79 L1045.5,543.92 L1047.49,544.06 L1049.49,544.19 L1051.49,544.33 L1053.49,544.46 L1055.48,544.6 L1057.48,544.73 L1059.48,544.86 L1061.48,544.99 L1063.47,545.11 L1065.47,545.22 L1067.47,545.33 L1069.47,545.45 L1071.47,545.56 L1073.47,545.67 L1075.47,545.78 L1077.46,545.89 L1079.46,546 L1081.46,546.12 L1083.46,546.23 L1085.46,546.34 L1087.46,546.45 L1089.46,546.56 L1091.46,546.67 L1093.45,546.79 L1095.45,546.9 L1097.45,547.02 L1099.45,547.15 L1101.45,547.27 L1103.44,547.4 L1105.44,547.53 L1107.44,547.67 L1109.44,547.8 L1111.43,547.93 L1113.43,548.06 L1115.43,548.19 L1117.43,548.32 L1119.42,548.45 L1121.42,548.58 L1123.42,548.72 L1125.42,548.85 L1127.41,548.98 L1129.41,549.11 L1131.41,549.24 L1133.41,549.37 L1135.4,549.5 L1137.4,549.63 L1138.4,549.7" stroke="#1ee11e" stroke-width="2.0" fill="none" stroke-linejoin="round"/>
<path d="M1296.8,461.5 V773.4 M1281.8,758.4 H1742 M1289.2,743.5 H1296.8 M1289.2,734.79 H1296.8 M1289.2,728.61 H1296.8 M1289.2,723.81 H1296.8 M1289.2,719.89 H1296.8 M1289.2,716.58 H1296.8 M1289.2,713.71 H1296.8 M1289.2,711.18 H1296.8 M1281.8,708.92 H1296.8 M1289.2,694.02 H1296.8 M1289.2,685.31 H1296.8 M1289.2,679.12 H1296.8 M1289.2,674.33 H1296.8 M1289.2,670.41 H1296.8 M1289.2,667.1 H1296.8 M1289.2,664.23 H1296.8 M1289.2,661.7 H1296.8 M1281.8,659.43 H1296.8 M1289.2,644.54 H1296.8 M1289.2,635.82 H1296.8 M1289.2,629.64 H1296.8 M1289.2,624.85 H1296.8 M1289.2,620.93 H1296.8 M1289.2,617.62 H1296.8 M1289.2,614.75 H1296.8 M1289.2,612.21 H1296.8 M1281.8,609.95 H1296.8 M1289.2,595.05 H1296.8 M1289.2,586.34 H1296.8 M1289.2,580.16 H1296.8 M1289.2,575.36 H1296.8 M1289.2,571.44 H1296.8 M1289.2,568.13 H1296.8 M1289.2,565.26 H1296.8 M1289.2,562.73 H1296.8 M1281.8,560.47 H1296.8 M1289.2,545.57 H1296.8 M1289.2,536.86 H1296.8 M1289.2,530.67 H1296.8 M1289.2,525.88 H1296.8 M1289.2,521.96 H1296.8 M1289.2,518.65 H1296.8 M1289.2,515.78 H1296.8 M1289.2,513.25 H1296.8 M1281.8,510.98 H1296.8 M1289.2,496.09 H1296.8 M1289.2,487.37 H1296.8 M1289.2,481.19 H1296.8 M1289.2,476.4 H1296.8 M1289.2,472.48 H1296.8 M1289.2,469.17 H1296.8 M1289.2,466.3 H1296.8 M1289.2,463.76 H1296.8 M1281.8,461.5 H1296.8 M1328.6,758.4 V766 M1360.4,758.4 V773.4 M1392.2,758.4 V766 M1424,758.4 V773.4 M1455.8,758.4 V766 M1487.6,758.4 V773.4 M1519.4,758.4 V766 M1551.2,758.4 V773.4 M1583,758.4 V766 M1614.8,758.4 V773.4 M1646.6,758.4 V766 M1678.4,758.4 V773.4 M1710.2,758.4 V766 M1742,758.4 V773.4" stroke="#000" stroke-width="1.9" fill="none"/>
<text x="1273.6" y="768.4" text-anchor="end" font-size="24.4">10<tspan font-size="14" dy="-11.6">-4</tspan></text>
<text x="1273.6" y="718.92" text-anchor="end" font-size="24.4">10<tspan font-size="14" dy="-11.6">-3</tspan></text>
<text x="1273.6" y="669.43" text-anchor="end" font-size="24.4">10<tspan font-size="14" dy="-11.6">-2</tspan></text>
<text x="1273.6" y="619.95" text-anchor="end" font-size="24.4">10<tspan font-size="14" dy="-11.6">-1</tspan></text>
<text x="1273.6" y="570.47" text-anchor="end" font-size="24.4">10<tspan font-size="14" dy="-11.6">0</tspan></text>
<text x="1273.6" y="520.98" text-anchor="end" font-size="24.4">10<tspan font-size="14" dy="-11.6">1</tspan></text>
<text x="1273.6" y="471.5" text-anchor="end" font-size="24.4">10<tspan font-size="14" dy="-11.6">2</tspan></text>
<text x="1296.8" y="803" text-anchor="middle" font-size="24.3">1950</text>
<text x="1360.4" y="803" text-anchor="middle" font-size="24.3">1960</text>
<text x="1424" y="803" text-anchor="middle" font-size="24.3">1970</text>
<text x="1487.6" y="803" text-anchor="middle" font-size="24.3">1980</text>
<text x="1551.2" y="803" text-anchor="middle" font-size="24.3">1990</text>
<text x="1614.8" y="803" text-anchor="middle" font-size="24.3">2000</text>
<text x="1678.4" y="803" text-anchor="middle" font-size="24.3">2010</text>
<text x="1742" y="803" text-anchor="middle" font-size="24.3">2020</text>
<text x="1519.4" y="830.7" text-anchor="middle" font-size="25" xml:space="preserve">Time  (y)</text>
<text transform="translate(1224.3,609.95) rotate(-90)" text-anchor="middle" font-size="25">Concentration  (Bq m<tspan font-size="13" dy="-9">-3</tspan><tspan dy="9">)</tspan></text>
<text x="1626.1" y="486.1" font-size="25">Box no. 14</text>
<text x="1198.5" y="435.3" font-size="32.3" font-weight="bold">F</text>
<path d="M1297.6,662.2 L1298.03,660.24 L1298.45,658.29 L1298.88,656.33 L1299.31,654.37 L1299.73,652.42 L1300.16,650.46 L1300.61,648.51 L1301.12,646.57 L1301.64,644.64 L1302.15,642.7 L1302.67,640.77 L1303.23,638.85 L1304.09,637.05 L1305.09,635.32 L1306.1,633.59 L1307.11,631.86 L1308.12,630.13 L1309.12,628.4 L1310.03,626.63 L1310.64,624.72 L1311.21,622.8 L1311.77,620.88 L1312.34,618.96 L1312.91,617.04 L1313.49,615.12 L1314.09,613.21 L1314.7,611.3 L1315.3,609.39 L1315.91,607.49 L1316.5,605.57 L1316.94,603.62 L1317.29,601.65 L1317.64,599.68 L1317.98,597.71 L1318.33,595.73 L1318.79,593.79 L1319.46,591.91 L1320.16,590.03 L1320.87,588.16 L1321.57,586.28 L1322.27,584.41 L1322.98,582.53 L1323.68,580.66 L1324.45,578.81 L1325.44,577.08 L1326.47,575.35 L1327.49,573.63 L1328.51,571.91 L1329.54,570.2 L1330.83,568.69 L1332.33,567.37 L1333.84,566.06 L1335.35,564.74 L1336.86,563.43 L1338.37,562.1 L1339.86,560.77 L1341.35,559.43 L1342.85,558.1 L1344.34,556.76 L1345.83,555.42 L1347.28,554.05 L1348.59,552.54 L1349.88,551 L1351.16,549.47 L1352.45,547.93 L1353.81,546.54 L1355.64,546.05 L1357.64,545.87 L1359.63,545.68 L1361.61,545.38 L1363.57,544.97 L1365.52,544.55 L1367.31,543.86 L1368.64,542.41 L1369.9,540.85 L1371.15,539.29 L1372.41,537.73 L1373.65,536.16 L1374.87,534.57 L1376.08,532.98 L1377.3,531.39 L1378.53,529.81 L1379.89,528.42 L1381.7,527.64 L1383.58,526.95 L1385.47,526.27 L1387.37,525.7 L1389.35,525.65 L1391.36,525.69 L1393.36,525.74 L1395.36,525.78 L1397.36,525.83 L1399.37,525.87 L1401.37,525.95 L1403.37,526.07 L1405.37,526.2 L1407.36,526.33 L1409.36,526.45 L1411.36,526.58 L1413.36,526.7 L1415.36,526.83 L1417.36,526.95 L1419.36,527.07 L1421.36,527.16 L1423.36,527.23 L1425.36,527.31 L1427.36,527.38 L1429.37,527.46 L1431.37,527.53 L1433.37,527.6 L1435.37,527.68 L1437.37,527.75 L1439.37,527.76 L1441.37,527.67 L1443.37,527.58 L1445.37,527.48 L1447.38,527.39 L1449.38,527.29 L1451.38,527.19 L1453.38,527.1 L1455.38,527 L1457.38,526.91 L1459.38,526.81 L1461.38,526.72 L1463.38,526.59 L1465.33,526.21 L1467.28,525.73 L1469.22,525.24 L1471.16,524.76 L1473.11,524.27 L1475.05,523.78 L1476.98,523.25 L1478.9,522.69 L1480.82,522.12 L1482.75,521.56 L1484.67,520.99 L1486.59,520.43 L1488.52,519.9 L1490.46,519.4 L1492.4,518.91 L1494.34,518.42 L1496.29,517.94 L1498.23,517.45 L1500.19,517.04 L1502.17,516.75 L1504.15,516.49 L1506.14,516.22 L1508.12,515.95 L1510.11,515.69 L1512.1,515.48 L1514.1,515.38 L1516.1,515.28 L1518.1,515.18 L1520.03,514.88 L1521.75,513.9 L1523.43,512.81 L1525.11,511.72 L1526.83,510.76 L1528.75,510.59 L1530.75,510.69 L1532.75,510.79 L1534.75,510.89 L1536.75,510.99 L1538.75,511.14 L1540.7,511.55 L1542.64,512.04 L1544.59,512.53 L1546.53,513.02 L1548.47,513.51 L1550.41,514 L1552.36,514.49 L1554.3,514.96 L1556.25,515.41 L1558.2,515.87 L1560.15,516.34 L1562.09,516.83 L1564.03,517.32 L1565.98,517.81 L1567.92,518.3 L1569.86,518.79 L1571.8,519.27 L1573.75,519.75 L1575.7,520.22 L1577.64,520.69 L1579.59,521.17 L1581.53,521.64 L1583.49,522.07 L1585.46,522.42 L1587.43,522.76 L1589.41,523.11 L1591.37,523.51 L1593.32,523.95 L1595.27,524.4 L1597.23,524.84 L1599.18,525.28 L1601.13,525.73 L1603.09,526.17 L1605.04,526.61 L1606.99,527.06 L1608.95,527.5 L1610.9,527.94 L1612.85,528.39 L1614.8,528.85 L1616.74,529.34 L1618.69,529.83 L1620.63,530.31 L1622.57,530.8 L1624.51,531.29 L1626.46,531.78 L1628.4,532.27 L1630.34,532.75 L1632.28,533.24 L1634.23,533.73 L1636.17,534.22 L1638.12,534.69 L1640.07,535.13 L1642.03,535.56 L1643.98,536 L1645.94,536.43 L1647.89,536.87 L1649.85,537.3 L1651.8,537.74 L1653.76,538.18 L1655.71,538.61 L1657.67,539.05 L1659.62,539.48 L1661.58,539.91 L1663.54,540.31 L1665.5,540.7 L1667.47,541.1 L1669.43,541.49 L1671.39,541.89 L1673.36,542.28 L1675.32,542.68 L1677.29,543.07 L1679.25,543.46 L1681.21,543.86 L1683.18,544.25 L1685.14,544.64 L1687.11,545 L1689.08,545.35 L1691.06,545.7 L1693.03,546.05 L1695,546.39 L1696.97,546.74 L1698.95,547.09 L1700.92,547.44 L1702.89,547.79 L1704.86,548.13 L1706.84,548.48 L1708.81,548.82 L1710.79,549.1 L1712.78,549.34 L1714.77,549.58 L1716.76,549.83 L1718.74,550.07 L1720.73,550.32 L1722.72,550.56 L1724.71,550.8 L1726.7,551.05 L1728.68,551.29 L1730.67,551.54 L1732.66,551.78 L1734.65,552.02 L1736.64,552.27 L1738.62,552.51 L1740.61,552.76 L1742.6,553" stroke="#000000" stroke-width="1.9" fill="none" stroke-linejoin="round"/>
<circle cx="1481.1" cy="514.1" r="5.6" fill="#0a14f0"/>
<circle cx="1493.9" cy="505.8" r="5.6" fill="#0a14f0"/>
<circle cx="1481.1" cy="509.3" r="5.6" fill="#050505"/>
<circle cx="1493.9" cy="500.4" r="5.6" fill="#050505"/>
<circle cx="1506.7" cy="508.7" r="5.6" fill="#050505"/>
<circle cx="1532.4" cy="509.3" r="5.6" fill="#050505"/>
<circle cx="1615" cy="528.2" r="5.6" fill="#050505"/>
<circle cx="1710.4" cy="555.2" r="5.6" fill="#050505"/>
<circle cx="1493.9" cy="514.7" r="5.6" fill="#f01414"/>
<path d="M1297.2,678.4 L1298.36,676.77 L1299.52,675.13 L1300.67,673.5 L1301.81,671.85 L1302.92,670.18 L1303.99,668.49 L1305.03,666.78 L1306.04,665.05 L1307.05,663.32 L1308.05,661.59 L1309.04,659.85 L1310,658.09 L1310.9,656.31 L1311.73,654.49 L1312.51,652.65 L1313.27,650.79 L1314.01,648.93 L1314.75,647.07 L1315.49,645.21 L1316.23,643.35 L1316.97,641.49 L1317.69,639.62 L1318.39,637.74 L1319.06,635.86 L1319.7,633.96 L1320.32,632.05 L1320.93,630.15 L1321.55,628.24 L1322.16,626.33 L1322.77,624.43 L1323.39,622.52 L1324,620.61 L1324.62,618.71 L1325.24,616.8 L1325.87,614.9 L1326.5,613 L1327.13,611.1 L1327.77,609.2 L1328.41,607.3 L1329.06,605.41 L1329.73,603.52 L1330.43,601.64 L1331.14,599.77 L1331.86,597.9 L1332.58,596.03 L1333.3,594.16 L1334.03,592.3 L1334.75,590.43 L1335.48,588.56 L1336.23,586.71 L1337.03,584.89 L1337.95,583.13 L1339.01,581.46 L1340.19,579.86 L1341.43,578.3 L1342.7,576.75 L1343.98,575.21 L1345.28,573.69 L1346.62,572.21 L1348.03,570.8 L1349.5,569.45 L1351.01,568.14 L1352.54,566.85 L1354.08,565.57 L1355.63,564.3 L1357.19,563.05 L1358.79,561.84 L1360.42,560.69 L1362.09,559.58 L1363.77,558.49 L1365.45,557.4 L1367.13,556.32 L1368.81,555.22 L1370.47,554.11 L1372.1,552.94 L1373.69,551.73 L1375.25,550.48 L1376.79,549.2 L1378.33,547.92 L1379.88,546.65 L1381.43,545.38 L1383,544.14 L1384.59,542.93 L1386.21,541.76 L1387.85,540.6 L1389.5,539.47 L1391.17,538.38 L1392.88,537.35 L1394.65,536.43 L1396.46,535.58 L1398.29,534.78 L1400.14,534.02 L1402,533.32 L1403.89,532.74 L1405.82,532.31 L1407.79,532.03 L1409.78,531.85 L1411.77,531.7 L1413.77,531.56 L1415.77,531.43 L1417.77,531.29 L1419.77,531.16 L1421.77,531.05 L1423.77,530.97 L1425.77,530.93 L1427.77,530.91 L1429.77,530.9 L1431.78,530.9 L1433.78,530.9 L1435.78,530.89 L1437.79,530.88 L1439.79,530.84 L1441.79,530.77 L1443.79,530.68 L1445.79,530.58 L1447.79,530.47 L1449.79,530.37 L1451.79,530.26 L1453.79,530.15 L1455.79,530.04 L1457.79,529.93 L1459.79,529.81 L1461.79,529.67 L1463.78,529.49 L1465.77,529.26 L1467.75,529 L1469.73,528.7 L1471.71,528.4 L1473.68,528.06 L1475.64,527.66 L1477.58,527.19 L1479.51,526.66 L1481.43,526.09 L1483.35,525.52 L1485.27,524.94 L1487.19,524.36 L1489.11,523.79 L1491.03,523.22 L1492.95,522.66 L1494.87,522.1 L1496.8,521.55 L1498.73,521.03 L1500.68,520.55 L1502.63,520.11 L1504.59,519.7 L1506.55,519.3 L1508.52,518.91 L1510.49,518.54 L1512.46,518.19 L1514.43,517.87 L1516.41,517.56 L1518.39,517.26 L1520.37,516.96 L1522.36,516.66 L1524.34,516.37 L1526.32,516.09 L1528.3,515.81 L1530.29,515.53 L1532.27,515.27 L1534.26,515.06 L1536.25,514.9 L1538.25,514.81 L1540.25,514.77 L1542.25,514.75 L1544.26,514.76 L1546.25,514.83 L1548.25,514.97 L1550.23,515.18 L1552.21,515.45 L1554.19,515.75 L1556.17,516.07 L1558.14,516.41 L1560.11,516.81 L1562.06,517.25 L1564,517.72 L1565.95,518.2 L1567.89,518.69 L1569.83,519.18 L1571.78,519.66 L1573.72,520.14 L1575.67,520.61 L1577.62,521.08 L1579.56,521.55 L1581.52,522 L1583.47,522.41 L1585.44,522.8 L1587.41,523.17 L1589.37,523.54 L1591.34,523.94 L1593.29,524.36 L1595.25,524.79 L1597.2,525.23 L1599.16,525.68 L1601.11,526.12 L1603.06,526.56 L1605.02,527.01 L1606.97,527.45 L1608.93,527.9 L1610.88,528.34 L1612.83,528.8 L1614.78,529.26 L1616.72,529.74 L1618.67,530.22 L1620.61,530.71 L1622.55,531.2 L1624.5,531.69 L1626.44,532.17 L1628.38,532.66 L1630.32,533.15 L1632.27,533.64 L1634.21,534.12 L1636.16,534.6 L1638.1,535.06 L1640.06,535.51 L1642.01,535.96 L1643.96,536.39 L1645.92,536.83 L1647.87,537.27 L1649.83,537.7 L1651.79,538.14 L1653.74,538.57 L1655.7,539.01 L1657.65,539.44 L1659.61,539.87 L1661.57,540.29 L1663.53,540.7 L1665.49,541.1 L1667.45,541.5 L1669.42,541.89 L1671.38,542.28 L1673.35,542.68 L1675.31,543.07 L1677.27,543.47 L1679.24,543.86 L1681.2,544.25 L1683.17,544.64 L1685.14,545.02 L1687.1,545.39 L1689.08,545.74 L1691.05,546.1 L1693.02,546.44 L1694.99,546.79 L1696.97,547.14 L1698.94,547.49 L1700.91,547.84 L1702.88,548.18 L1704.86,548.53 L1706.83,548.86 L1708.81,549.18 L1710.79,549.47 L1712.78,549.73 L1714.76,549.98 L1716.75,550.23 L1718.74,550.47 L1720.73,550.72 L1722.72,550.96 L1724.71,551.2 L1726.69,551.45 L1728.68,551.69 L1730.67,551.94 L1732.66,552.18 L1734.65,552.42 L1736.64,552.67 L1738.62,552.91 L1740.61,553.16 L1742.6,553.4" stroke="#1a16c0" stroke-width="2.1" fill="none" stroke-linejoin="round"/>
<path d="M1297.2,725.1 L1298.36,723.47 L1299.52,721.84 L1300.68,720.2 L1301.84,718.57 L1302.99,716.93 L1304.14,715.29 L1305.26,713.63 L1306.35,711.96 L1307.42,710.27 L1308.48,708.57 L1309.54,706.87 L1310.6,705.17 L1311.65,703.46 L1312.7,701.76 L1313.72,700.04 L1314.69,698.29 L1315.6,696.51 L1316.46,694.71 L1317.3,692.89 L1318.13,691.07 L1318.96,689.24 L1319.79,687.42 L1320.62,685.6 L1321.45,683.78 L1322.27,681.95 L1323.09,680.13 L1323.9,678.29 L1324.69,676.45 L1325.46,674.6 L1326.21,672.75 L1326.96,670.89 L1327.71,669.04 L1328.46,667.18 L1329.21,665.32 L1329.96,663.47 L1330.71,661.61 L1331.48,659.76 L1332.26,657.92 L1333.06,656.08 L1333.88,654.25 L1334.7,652.43 L1335.53,650.6 L1336.35,648.78 L1337.18,646.96 L1338,645.13 L1338.83,643.31 L1339.66,641.49 L1340.52,639.68 L1341.42,637.9 L1342.38,636.14 L1343.39,634.42 L1344.44,632.71 L1345.49,631.01 L1346.55,629.31 L1347.62,627.61 L1348.67,625.92 L1349.73,624.21 L1350.78,622.51 L1351.81,620.79 L1352.83,619.07 L1353.85,617.35 L1354.87,615.62 L1355.9,613.91 L1356.94,612.19 L1358,610.5 L1359.08,608.81 L1360.17,607.13 L1361.29,605.48 L1362.46,603.86 L1363.69,602.28 L1364.97,600.75 L1366.28,599.24 L1367.61,597.74 L1368.94,596.24 L1370.27,594.74 L1371.6,593.25 L1372.93,591.76 L1374.29,590.28 L1375.68,588.85 L1377.12,587.47 L1378.6,586.12 L1380.11,584.81 L1381.63,583.5 L1383.15,582.2 L1384.67,580.89 L1386.19,579.6 L1387.73,578.32 L1389.3,577.08 L1390.91,575.89 L1392.54,574.73 L1394.18,573.59 L1395.84,572.46 L1397.49,571.33 L1399.14,570.2 L1400.8,569.08 L1402.47,567.98 L1404.17,566.92 L1405.9,565.93 L1407.66,564.98 L1409.44,564.07 L1411.23,563.16 L1413.02,562.26 L1414.81,561.36 L1416.6,560.47 L1418.4,559.59 L1420.21,558.74 L1422.03,557.91 L1423.86,557.1 L1425.7,556.3 L1427.53,555.5 L1429.37,554.7 L1431.21,553.92 L1433.06,553.15 L1434.92,552.43 L1436.81,551.77 L1438.71,551.15 L1440.62,550.56 L1442.54,549.99 L1444.48,549.47 L1446.42,549.01 L1448.38,548.59 L1450.34,548.21 L1452.31,547.84 L1454.28,547.47 L1456.25,547.11 L1458.21,546.74 L1460.18,546.37 L1462.15,546 L1464.12,545.62 L1466.08,545.24 L1468.05,544.85 L1470.01,544.45 L1471.97,544.06 L1473.94,543.66 L1475.9,543.27 L1477.86,542.88 L1479.83,542.48 L1481.79,542.09 L1483.75,541.7 L1485.72,541.31 L1487.68,540.93 L1489.65,540.57 L1491.62,540.21 L1493.59,539.86 L1495.57,539.51 L1497.54,539.16 L1499.51,538.82 L1501.48,538.47 L1503.45,538.12 L1505.43,537.77 L1507.4,537.43 L1509.37,537.1 L1511.35,536.79 L1513.33,536.5 L1515.32,536.24 L1517.3,536 L1519.29,535.75 L1521.28,535.51 L1523.27,535.27 L1525.25,535.03 L1527.24,534.79 L1529.23,534.55 L1531.22,534.32 L1533.21,534.1 L1535.2,533.92 L1537.2,533.77 L1539.2,533.67 L1541.2,533.58 L1543.2,533.51 L1545.2,533.43 L1547.2,533.35 L1549.2,533.28 L1551.2,533.2 L1553.2,533.13 L1555.2,533.06 L1557.2,533 L1559.21,532.97 L1561.21,532.98 L1563.21,533.01 L1565.21,533.06 L1567.21,533.11 L1569.21,533.19 L1571.21,533.31 L1573.2,533.46 L1575.2,533.65 L1577.19,533.86 L1579.18,534.07 L1581.17,534.29 L1583.16,534.51 L1585.15,534.75 L1587.13,534.99 L1589.12,535.25 L1591.11,535.51 L1593.09,535.77 L1595.08,536.03 L1597.06,536.29 L1599.05,536.55 L1601.03,536.82 L1603.02,537.08 L1605,537.34 L1606.99,537.6 L1608.97,537.87 L1610.96,538.14 L1612.94,538.42 L1614.92,538.73 L1616.89,539.05 L1618.87,539.39 L1620.84,539.74 L1622.81,540.08 L1624.78,540.43 L1626.75,540.78 L1628.73,541.12 L1630.7,541.47 L1632.67,541.82 L1634.64,542.16 L1636.62,542.51 L1638.59,542.86 L1640.56,543.2 L1642.53,543.55 L1644.5,543.9 L1646.48,544.25 L1648.45,544.6 L1650.42,544.94 L1652.39,545.29 L1654.36,545.64 L1656.34,545.99 L1658.31,546.33 L1660.28,546.67 L1662.26,546.99 L1664.24,547.3 L1666.21,547.61 L1668.19,547.91 L1670.17,548.21 L1672.15,548.5 L1674.13,548.8 L1676.11,549.1 L1678.09,549.4 L1680.08,549.7 L1682.06,549.99 L1684.04,550.28 L1686.02,550.55 L1688.01,550.81 L1689.99,551.06 L1691.98,551.3 L1693.97,551.54 L1695.96,551.79 L1697.94,552.03 L1699.93,552.27 L1701.92,552.51 L1703.91,552.76 L1705.89,553 L1707.88,553.25 L1709.87,553.51 L1711.85,553.77 L1713.84,554.04 L1715.82,554.31 L1717.8,554.58 L1719.79,554.86 L1721.77,555.13 L1723.75,555.4 L1725.74,555.68 L1727.72,555.95 L1729.71,556.22 L1731.69,556.5 L1733.67,556.77 L1735.66,557.04 L1737.64,557.32 L1739.62,557.59 L1741.61,557.86 L1742.6,558" stroke="#d8202a" stroke-width="2.0" fill="none" stroke-linejoin="round"/>
<text x="204" y="202" font-size="25">Measurements</text>
<text x="382.5" y="202" font-size="25">Computations</text>
<circle cx="207.5" cy="230" r="4.3" fill="#050505"/>
<circle cx="229.4" cy="230" r="4.3" fill="#050505"/>
<circle cx="250.8" cy="230" r="4.3" fill="#050505"/>
<circle cx="207.5" cy="263" r="5.6" fill="#0a14f0"/>
<circle cx="229.4" cy="263" r="5.6" fill="#0a14f0"/>
<circle cx="250.8" cy="263" r="5.6" fill="#0a14f0"/>
<circle cx="207.5" cy="288.2" r="4.6" fill="#f01414"/>
<circle cx="229.4" cy="288.2" r="4.6" fill="#f01414"/>
<circle cx="250.8" cy="288.2" r="4.6" fill="#f01414"/>
<circle cx="207.5" cy="312.5" r="4.6" fill="#14f014"/>
<circle cx="229.4" cy="312.5" r="4.6" fill="#14f014"/>
<circle cx="250.8" cy="312.5" r="4.6" fill="#14f014"/>
<path d="M383.5,226 H432" stroke="#000000" stroke-width="1.9"/>
<text x="438" y="234.6" font-size="25">Layer 1</text>
<path d="M383.5,257.6 H432" stroke="#1a16c0" stroke-width="1.9"/>
<text x="438" y="266.2" font-size="25">Layer 2</text>
<path d="M383.5,288.9 H432" stroke="#d8202a" stroke-width="1.9"/>
<text x="438" y="297.5" font-size="25">Layer 3</text>
<path d="M383.5,320.3 H432" stroke="#1ee11e" stroke-width="1.9"/>
<text x="438" y="328.9" font-size="25">Layer 4</text>
</svg>
</body></html>
